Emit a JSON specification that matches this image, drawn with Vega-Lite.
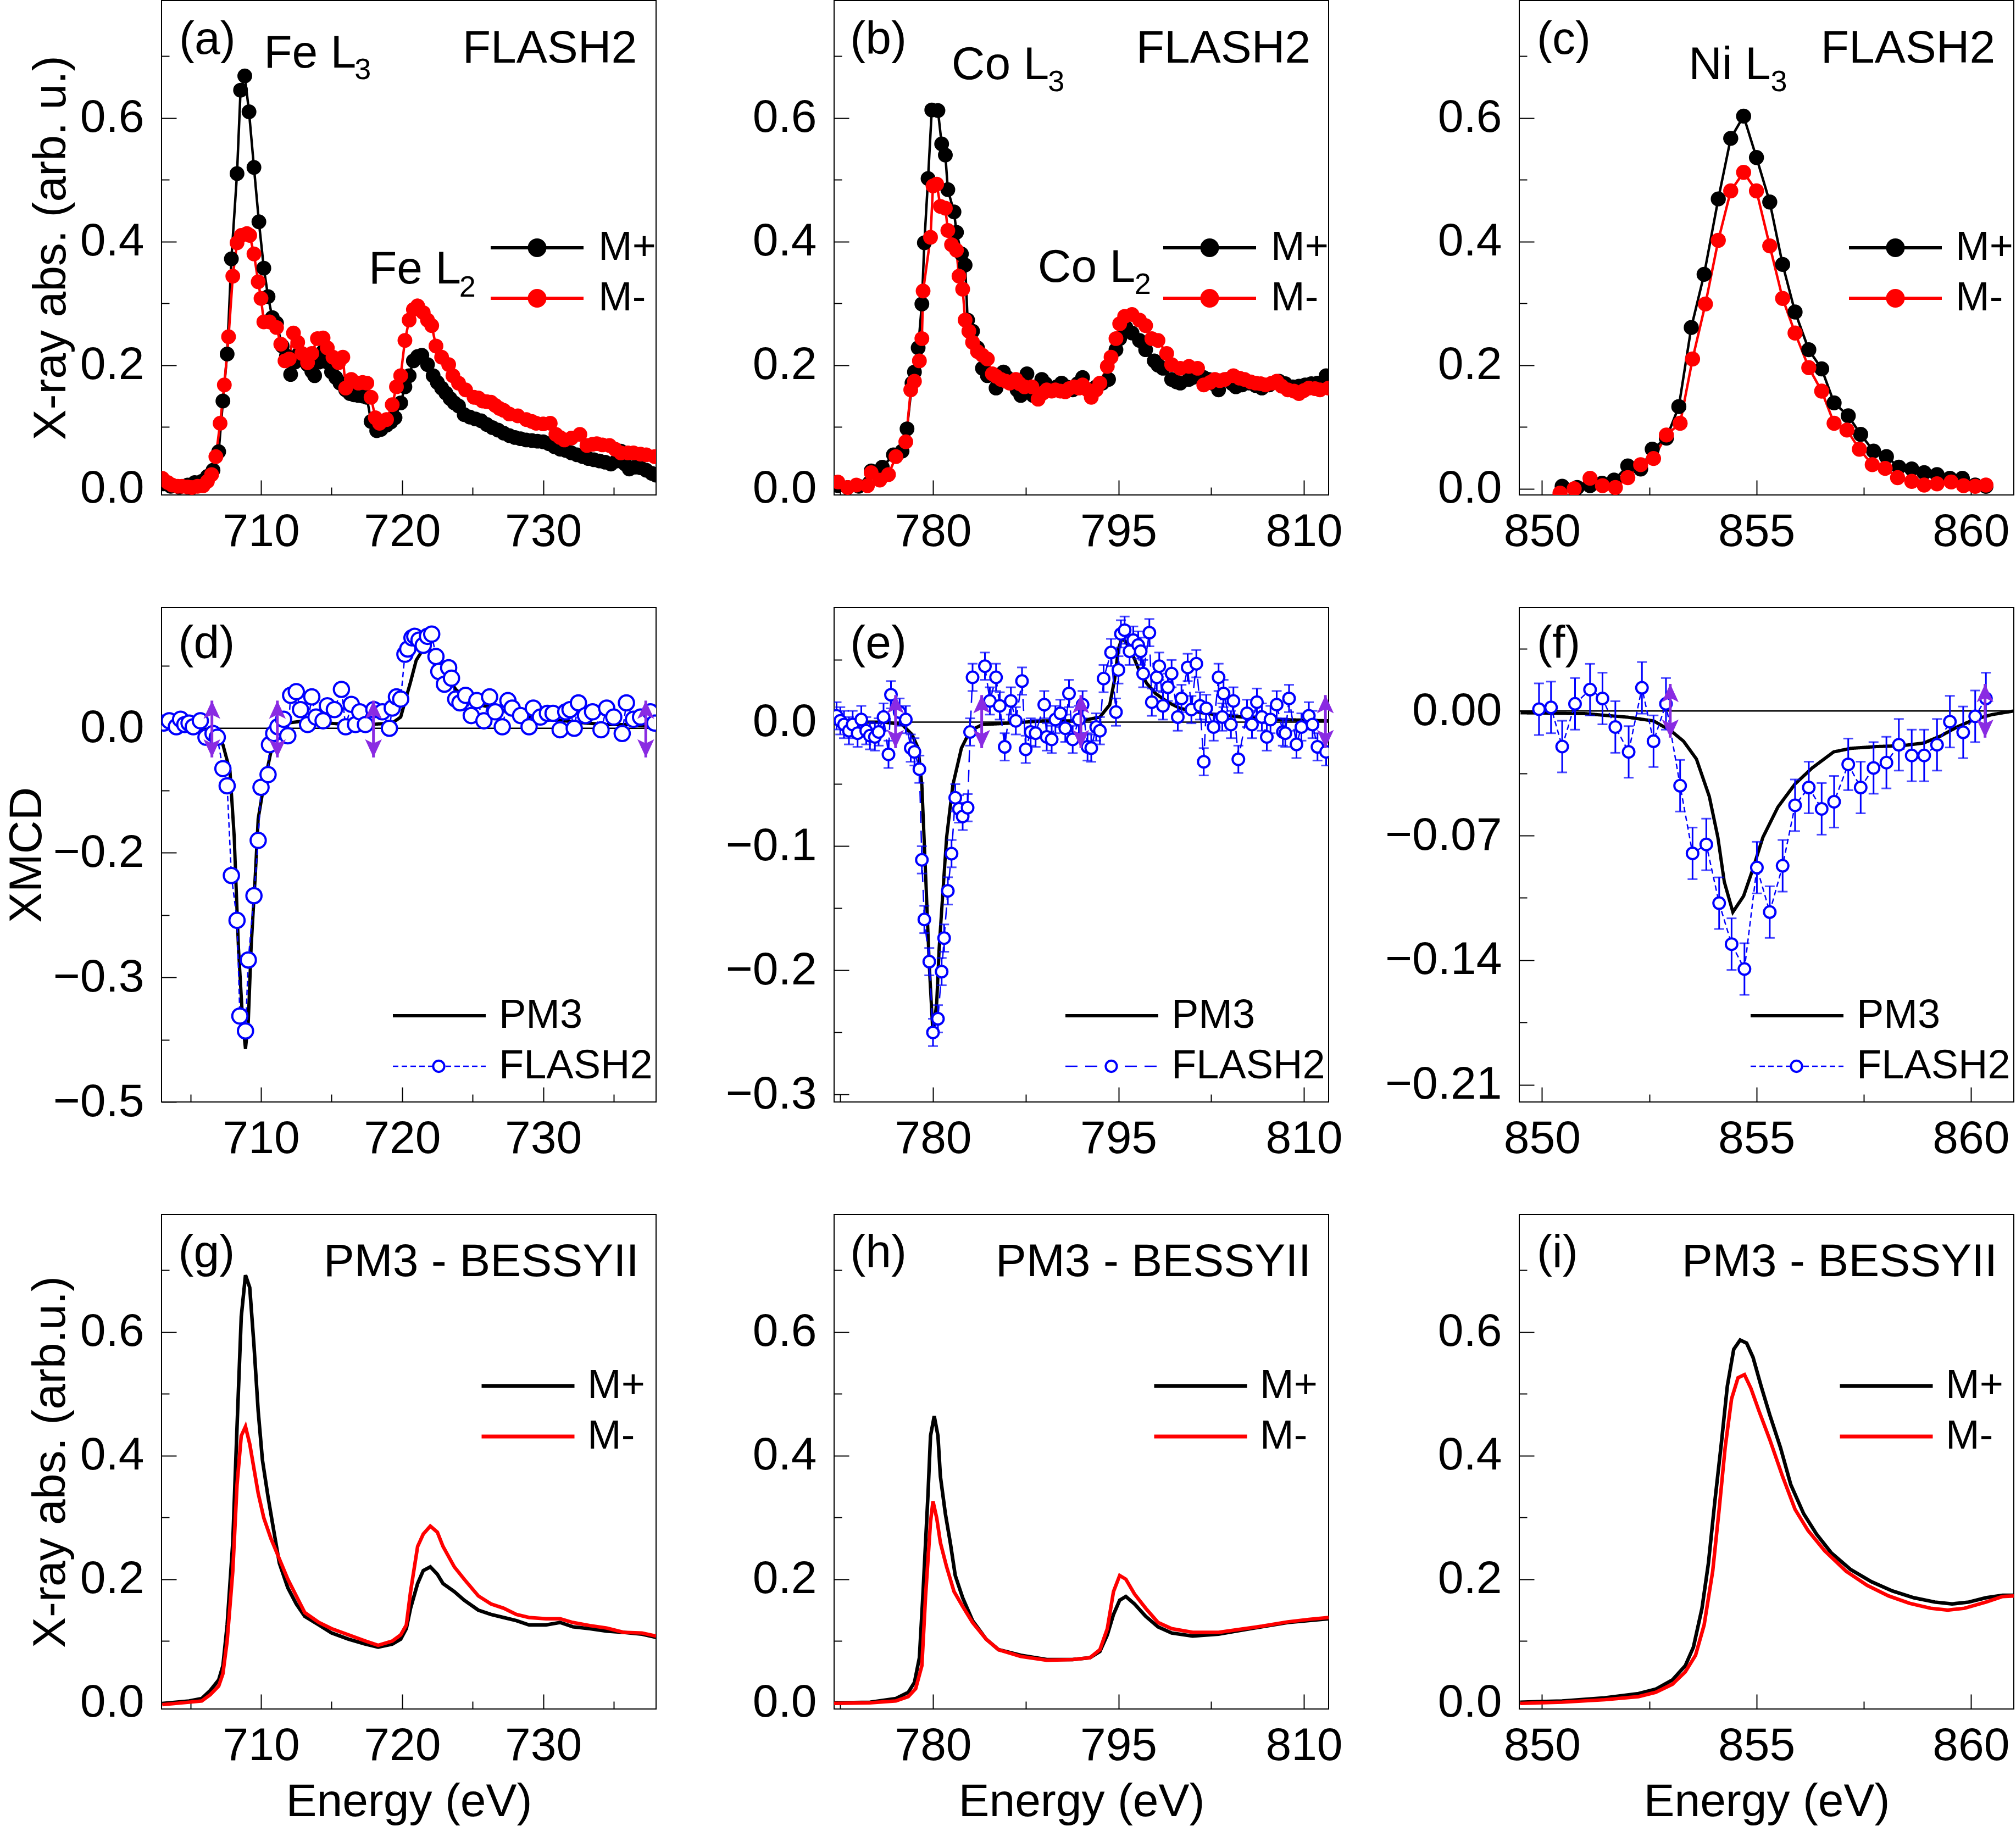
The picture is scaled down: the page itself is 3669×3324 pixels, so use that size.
{
"$schema": "https://vega.github.io/schema/vega-lite/v6.json",
"background": "white",
"padding": {"left": 6, "top": 0, "right": 0, "bottom": 0},
"autosize": {"type": "pad"},
"bounds": "flush",
"columns": 5,
"spacing": {"row": 205, "column": 0},
"resolve": {"scale": {"stroke": "independent", "fill": "independent", "strokeDash": "independent", "strokeWidth": "independent", "shape": "independent", "color": "independent"}, "legend": {"stroke": "independent", "fill": "independent", "strokeDash": "independent", "strokeWidth": "independent", "shape": "independent", "color": "independent"}},
"config": {
  "font": "Liberation Sans",
  "view": {"stroke": "black", "strokeWidth": 2},
  "axis": {"domain": false, "grid": false, "ticks": true, "tickColor": "black", "tickWidth": 2, "labelFont": "Liberation Sans", "labelFontSize": 84, "labelColor": "black", "labelLimit": 1000, "labelFlush": false, "labelOverlap": false, "labelBound": false, "titleFont": "Liberation Sans", "titleFontSize": 84, "titleFontWeight": "normal", "titleColor": "black", "titleLimit": 2000},
  "axisX": {"labelPadding": 53},
  "axisY": {"labelPadding": 59},
  "legend": {"labelFont": "Liberation Sans", "labelFontSize": 74, "labelColor": "black", "labelLimit": 1000, "padding": 0}
},
"datasets": {
"a": [
{"e":703.1,"v":0.008,"s":"M+"},{"e":703.6,"v":0.004,"s":"M+"},{"e":704.2,"v":0.003,"s":"M+"},{"e":704.8,"v":0.006,"s":"M+"},{"e":705.3,"v":0.010,"s":"M+"},{"e":705.8,"v":0.012,"s":"M+"},{"e":706.2,"v":0.020,"s":"M+"},{"e":706.6,"v":0.030,"s":"M+"},{"e":707.0,"v":0.060,"s":"M+"},{"e":707.3,"v":0.142,"s":"M+"},{"e":707.6,"v":0.218,"s":"M+"},{"e":707.9,"v":0.372,"s":"M+"},{"e":708.3,"v":0.510,"s":"M+"},{"e":708.55,"v":0.645,"s":"M+"},{"e":708.85,"v":0.668,"s":"M+"},{"e":709.15,"v":0.610,"s":"M+"},{"e":709.5,"v":0.520,"s":"M+"},{"e":709.85,"v":0.432,"s":"M+"},{"e":710.2,"v":0.357,"s":"M+"},{"e":710.5,"v":0.311,"s":"M+"},{"e":710.8,"v":0.277,"s":"M+"},{"e":711.1,"v":0.268,"s":"M+"},{"e":711.5,"v":0.231,"s":"M+"},{"e":711.8,"v":0.215,"s":"M+"},{"e":712.1,"v":0.185,"s":"M+"},{"e":712.4,"v":0.205,"s":"M+"},{"e":712.7,"v":0.219,"s":"M+"},{"e":713.0,"v":0.212,"s":"M+"},{"e":713.3,"v":0.201,"s":"M+"},{"e":713.6,"v":0.190,"s":"M+"},{"e":713.8,"v":0.183,"s":"M+"},{"e":714.1,"v":0.205,"s":"M+"},{"e":714.4,"v":0.222,"s":"M+"},{"e":714.7,"v":0.205,"s":"M+"},{"e":715.0,"v":0.189,"s":"M+"},{"e":715.3,"v":0.180,"s":"M+"},{"e":715.6,"v":0.171,"s":"M+"},{"e":716.0,"v":0.160,"s":"M+"},{"e":716.3,"v":0.154,"s":"M+"},{"e":716.6,"v":0.152,"s":"M+"},{"e":716.9,"v":0.151,"s":"M+"},{"e":717.2,"v":0.150,"s":"M+"},{"e":717.5,"v":0.148,"s":"M+"},{"e":717.8,"v":0.109,"s":"M+"},{"e":718.2,"v":0.094,"s":"M+"},{"e":718.5,"v":0.096,"s":"M+"},{"e":718.9,"v":0.103,"s":"M+"},{"e":719.2,"v":0.108,"s":"M+"},{"e":719.5,"v":0.115,"s":"M+"},{"e":719.9,"v":0.139,"s":"M+"},{"e":720.2,"v":0.165,"s":"M+"},{"e":720.5,"v":0.183,"s":"M+"},{"e":720.8,"v":0.207,"s":"M+"},{"e":721.1,"v":0.214,"s":"M+"},{"e":721.4,"v":0.216,"s":"M+"},{"e":721.8,"v":0.201,"s":"M+"},{"e":722.2,"v":0.183,"s":"M+"},{"e":722.5,"v":0.172,"s":"M+"},{"e":722.8,"v":0.163,"s":"M+"},{"e":723.1,"v":0.155,"s":"M+"},{"e":723.4,"v":0.146,"s":"M+"},{"e":723.7,"v":0.139,"s":"M+"},{"e":724.0,"v":0.134,"s":"M+"},{"e":724.4,"v":0.120,"s":"M+"},{"e":724.8,"v":0.116,"s":"M+"},{"e":725.2,"v":0.113,"s":"M+"},{"e":725.6,"v":0.110,"s":"M+"},{"e":726.0,"v":0.104,"s":"M+"},{"e":726.4,"v":0.099,"s":"M+"},{"e":726.8,"v":0.095,"s":"M+"},{"e":727.2,"v":0.090,"s":"M+"},{"e":727.6,"v":0.086,"s":"M+"},{"e":728.0,"v":0.083,"s":"M+"},{"e":728.4,"v":0.081,"s":"M+"},{"e":728.8,"v":0.079,"s":"M+"},{"e":729.2,"v":0.078,"s":"M+"},{"e":729.6,"v":0.077,"s":"M+"},{"e":730.0,"v":0.076,"s":"M+"},{"e":730.4,"v":0.073,"s":"M+"},{"e":730.8,"v":0.068,"s":"M+"},{"e":731.2,"v":0.064,"s":"M+"},{"e":731.6,"v":0.062,"s":"M+"},{"e":732.0,"v":0.058,"s":"M+"},{"e":732.4,"v":0.055,"s":"M+"},{"e":732.8,"v":0.052,"s":"M+"},{"e":733.2,"v":0.049,"s":"M+"},{"e":733.6,"v":0.047,"s":"M+"},{"e":734.0,"v":0.045,"s":"M+"},{"e":734.4,"v":0.043,"s":"M+"},{"e":734.8,"v":0.040,"s":"M+"},{"e":735.2,"v":0.045,"s":"M+"},{"e":735.5,"v":0.061,"s":"M+"},{"e":735.8,"v":0.040,"s":"M+"},{"e":736.1,"v":0.032,"s":"M+"},{"e":736.5,"v":0.035,"s":"M+"},{"e":736.9,"v":0.034,"s":"M+"},{"e":737.3,"v":0.030,"s":"M+"},{"e":737.7,"v":0.025,"s":"M+"},{"e":738.0,"v":0.022,"s":"M+"},
{"e":703.0,"v":0.017,"s":"M-"},{"e":703.4,"v":0.010,"s":"M-"},{"e":703.7,"v":0.006,"s":"M-"},{"e":704.1,"v":0.004,"s":"M-"},{"e":704.4,"v":0.004,"s":"M-"},{"e":704.8,"v":0.003,"s":"M-"},{"e":705.1,"v":0.002,"s":"M-"},{"e":705.5,"v":0.004,"s":"M-"},{"e":705.9,"v":0.005,"s":"M-"},{"e":706.2,"v":0.012,"s":"M-"},{"e":706.5,"v":0.023,"s":"M-"},{"e":706.8,"v":0.052,"s":"M-"},{"e":707.1,"v":0.106,"s":"M-"},{"e":707.4,"v":0.168,"s":"M-"},{"e":707.7,"v":0.246,"s":"M-"},{"e":708.0,"v":0.344,"s":"M-"},{"e":708.3,"v":0.398,"s":"M-"},{"e":708.6,"v":0.410,"s":"M-"},{"e":709.0,"v":0.413,"s":"M-"},{"e":709.2,"v":0.410,"s":"M-"},{"e":709.5,"v":0.380,"s":"M-"},{"e":709.8,"v":0.335,"s":"M-"},{"e":710.0,"v":0.308,"s":"M-"},{"e":710.2,"v":0.270,"s":"M-"},{"e":710.6,"v":0.270,"s":"M-"},{"e":711.1,"v":0.261,"s":"M-"},{"e":711.4,"v":0.234,"s":"M-"},{"e":711.7,"v":0.207,"s":"M-"},{"e":712.0,"v":0.210,"s":"M-"},{"e":712.3,"v":0.252,"s":"M-"},{"e":712.6,"v":0.237,"s":"M-"},{"e":712.9,"v":0.219,"s":"M-"},{"e":713.3,"v":0.204,"s":"M-"},{"e":713.6,"v":0.219,"s":"M-"},{"e":714.0,"v":0.243,"s":"M-"},{"e":714.4,"v":0.244,"s":"M-"},{"e":714.7,"v":0.228,"s":"M-"},{"e":715.1,"v":0.213,"s":"M-"},{"e":715.5,"v":0.204,"s":"M-"},{"e":715.8,"v":0.213,"s":"M-"},{"e":716.0,"v":0.163,"s":"M-"},{"e":716.4,"v":0.177,"s":"M-"},{"e":716.9,"v":0.171,"s":"M-"},{"e":717.2,"v":0.172,"s":"M-"},{"e":717.5,"v":0.171,"s":"M-"},{"e":717.8,"v":0.148,"s":"M-"},{"e":718.1,"v":0.115,"s":"M-"},{"e":718.4,"v":0.106,"s":"M-"},{"e":718.9,"v":0.112,"s":"M-"},{"e":719.3,"v":0.136,"s":"M-"},{"e":719.6,"v":0.165,"s":"M-"},{"e":719.9,"v":0.183,"s":"M-"},{"e":720.2,"v":0.240,"s":"M-"},{"e":720.5,"v":0.273,"s":"M-"},{"e":720.8,"v":0.290,"s":"M-"},{"e":721.1,"v":0.296,"s":"M-"},{"e":721.5,"v":0.285,"s":"M-"},{"e":721.8,"v":0.273,"s":"M-"},{"e":722.1,"v":0.264,"s":"M-"},{"e":722.4,"v":0.231,"s":"M-"},{"e":722.8,"v":0.213,"s":"M-"},{"e":723.3,"v":0.201,"s":"M-"},{"e":723.6,"v":0.183,"s":"M-"},{"e":724.0,"v":0.171,"s":"M-"},{"e":724.5,"v":0.160,"s":"M-"},{"e":725.1,"v":0.148,"s":"M-"},{"e":725.4,"v":0.147,"s":"M-"},{"e":725.7,"v":0.142,"s":"M-"},{"e":726.0,"v":0.141,"s":"M-"},{"e":726.3,"v":0.140,"s":"M-"},{"e":726.6,"v":0.135,"s":"M-"},{"e":726.9,"v":0.130,"s":"M-"},{"e":727.2,"v":0.127,"s":"M-"},{"e":727.6,"v":0.121,"s":"M-"},{"e":728.2,"v":0.118,"s":"M-"},{"e":728.8,"v":0.112,"s":"M-"},{"e":729.2,"v":0.109,"s":"M-"},{"e":729.5,"v":0.106,"s":"M-"},{"e":730.0,"v":0.105,"s":"M-"},{"e":730.5,"v":0.106,"s":"M-"},{"e":730.9,"v":0.088,"s":"M-"},{"e":731.2,"v":0.083,"s":"M-"},{"e":731.5,"v":0.079,"s":"M-"},{"e":732.0,"v":0.082,"s":"M-"},{"e":732.6,"v":0.088,"s":"M-"},{"e":733.1,"v":0.070,"s":"M-"},{"e":733.5,"v":0.072,"s":"M-"},{"e":733.8,"v":0.073,"s":"M-"},{"e":734.2,"v":0.071,"s":"M-"},{"e":734.7,"v":0.070,"s":"M-"},{"e":735.1,"v":0.064,"s":"M-"},{"e":735.5,"v":0.058,"s":"M-"},{"e":736.0,"v":0.058,"s":"M-"},{"e":736.4,"v":0.058,"s":"M-"},{"e":736.9,"v":0.056,"s":"M-"},{"e":737.3,"v":0.055,"s":"M-"},{"e":737.9,"v":0.052,"s":"M-"}
],
"b": [
{"e":772.3,"v":0.005,"s":"M+"},{"e":773.1,"v":0.002,"s":"M+"},{"e":774.0,"v":0.004,"s":"M+"},{"e":775.0,"v":0.029,"s":"M+"},{"e":775.9,"v":0.035,"s":"M+"},{"e":776.8,"v":0.055,"s":"M+"},{"e":777.5,"v":0.061,"s":"M+"},{"e":777.9,"v":0.097,"s":"M+"},{"e":778.3,"v":0.171,"s":"M+"},{"e":778.5,"v":0.189,"s":"M+"},{"e":778.8,"v":0.228,"s":"M+"},{"e":779.1,"v":0.299,"s":"M+"},{"e":779.3,"v":0.398,"s":"M+"},{"e":779.6,"v":0.502,"s":"M+"},{"e":779.9,"v":0.613,"s":"M+"},{"e":780.4,"v":0.612,"s":"M+"},{"e":780.7,"v":0.558,"s":"M+"},{"e":781.0,"v":0.540,"s":"M+"},{"e":781.2,"v":0.484,"s":"M+"},{"e":781.7,"v":0.448,"s":"M+"},{"e":781.9,"v":0.415,"s":"M+"},{"e":782.3,"v":0.380,"s":"M+"},{"e":782.6,"v":0.362,"s":"M+"},{"e":782.8,"v":0.273,"s":"M+"},{"e":783.2,"v":0.255,"s":"M+"},{"e":783.6,"v":0.228,"s":"M+"},{"e":784.0,"v":0.195,"s":"M+"},{"e":784.4,"v":0.183,"s":"M+"},{"e":785.1,"v":0.163,"s":"M+"},{"e":785.4,"v":0.175,"s":"M+"},{"e":785.7,"v":0.189,"s":"M+"},{"e":786.0,"v":0.180,"s":"M+"},{"e":786.4,"v":0.171,"s":"M+"},{"e":786.8,"v":0.160,"s":"M+"},{"e":787.1,"v":0.151,"s":"M+"},{"e":787.6,"v":0.186,"s":"M+"},{"e":788.1,"v":0.151,"s":"M+"},{"e":788.4,"v":0.165,"s":"M+"},{"e":788.8,"v":0.177,"s":"M+"},{"e":789.1,"v":0.170,"s":"M+"},{"e":789.5,"v":0.160,"s":"M+"},{"e":790.0,"v":0.165,"s":"M+"},{"e":790.4,"v":0.171,"s":"M+"},{"e":790.8,"v":0.165,"s":"M+"},{"e":791.3,"v":0.160,"s":"M+"},{"e":791.7,"v":0.170,"s":"M+"},{"e":792.1,"v":0.180,"s":"M+"},{"e":792.8,"v":0.160,"s":"M+"},{"e":793.2,"v":0.165,"s":"M+"},{"e":793.7,"v":0.171,"s":"M+"},{"e":794.2,"v":0.177,"s":"M+"},{"e":794.8,"v":0.225,"s":"M+"},{"e":795.1,"v":0.243,"s":"M+"},{"e":795.6,"v":0.261,"s":"M+"},{"e":796.1,"v":0.252,"s":"M+"},{"e":796.7,"v":0.240,"s":"M+"},{"e":797.2,"v":0.225,"s":"M+"},{"e":797.9,"v":0.207,"s":"M+"},{"e":798.2,"v":0.200,"s":"M+"},{"e":798.6,"v":0.195,"s":"M+"},{"e":799.3,"v":0.177,"s":"M+"},{"e":799.7,"v":0.173,"s":"M+"},{"e":800.0,"v":0.171,"s":"M+"},{"e":800.7,"v":0.177,"s":"M+"},{"e":801.0,"v":0.180,"s":"M+"},{"e":801.4,"v":0.186,"s":"M+"},{"e":801.9,"v":0.180,"s":"M+"},{"e":802.3,"v":0.177,"s":"M+"},{"e":802.7,"v":0.170,"s":"M+"},{"e":803.1,"v":0.160,"s":"M+"},{"e":803.8,"v":0.177,"s":"M+"},{"e":804.2,"v":0.170,"s":"M+"},{"e":804.5,"v":0.165,"s":"M+"},{"e":805.0,"v":0.168,"s":"M+"},{"e":805.6,"v":0.171,"s":"M+"},{"e":806.1,"v":0.167,"s":"M+"},{"e":806.6,"v":0.163,"s":"M+"},{"e":807.2,"v":0.168,"s":"M+"},{"e":808.0,"v":0.174,"s":"M+"},{"e":808.5,"v":0.170,"s":"M+"},{"e":809.1,"v":0.165,"s":"M+"},{"e":809.6,"v":0.166,"s":"M+"},{"e":810.1,"v":0.168,"s":"M+"},{"e":810.6,"v":0.170,"s":"M+"},{"e":811.1,"v":0.171,"s":"M+"},{"e":811.8,"v":0.183,"s":"M+"},
{"e":772.3,"v":0.011,"s":"M-"},{"e":773.1,"v":0.002,"s":"M-"},{"e":773.8,"v":0.006,"s":"M-"},{"e":774.7,"v":0.005,"s":"M-"},{"e":775.0,"v":0.026,"s":"M-"},{"e":775.7,"v":0.014,"s":"M-"},{"e":776.4,"v":0.023,"s":"M-"},{"e":777.0,"v":0.052,"s":"M-"},{"e":777.8,"v":0.076,"s":"M-"},{"e":778.2,"v":0.160,"s":"M-"},{"e":778.5,"v":0.174,"s":"M-"},{"e":778.9,"v":0.207,"s":"M-"},{"e":779.1,"v":0.243,"s":"M-"},{"e":779.2,"v":0.320,"s":"M-"},{"e":779.8,"v":0.407,"s":"M-"},{"e":780.0,"v":0.490,"s":"M-"},{"e":780.3,"v":0.493,"s":"M-"},{"e":780.6,"v":0.457,"s":"M-"},{"e":781.0,"v":0.454,"s":"M-"},{"e":781.2,"v":0.418,"s":"M-"},{"e":781.5,"v":0.395,"s":"M-"},{"e":781.9,"v":0.386,"s":"M-"},{"e":782.1,"v":0.344,"s":"M-"},{"e":782.4,"v":0.323,"s":"M-"},{"e":782.6,"v":0.273,"s":"M-"},{"e":782.9,"v":0.255,"s":"M-"},{"e":783.2,"v":0.237,"s":"M-"},{"e":783.6,"v":0.222,"s":"M-"},{"e":784.0,"v":0.216,"s":"M-"},{"e":784.4,"v":0.210,"s":"M-"},{"e":784.8,"v":0.186,"s":"M-"},{"e":785.1,"v":0.182,"s":"M-"},{"e":785.5,"v":0.177,"s":"M-"},{"e":785.9,"v":0.174,"s":"M-"},{"e":786.2,"v":0.171,"s":"M-"},{"e":786.7,"v":0.177,"s":"M-"},{"e":787.0,"v":0.170,"s":"M-"},{"e":787.4,"v":0.165,"s":"M-"},{"e":788.0,"v":0.165,"s":"M-"},{"e":788.5,"v":0.145,"s":"M-"},{"e":788.9,"v":0.155,"s":"M-"},{"e":789.2,"v":0.160,"s":"M-"},{"e":789.6,"v":0.158,"s":"M-"},{"e":789.9,"v":0.160,"s":"M-"},{"e":790.3,"v":0.158,"s":"M-"},{"e":790.7,"v":0.157,"s":"M-"},{"e":791.0,"v":0.162,"s":"M-"},{"e":791.4,"v":0.165,"s":"M-"},{"e":791.8,"v":0.163,"s":"M-"},{"e":792.1,"v":0.168,"s":"M-"},{"e":792.5,"v":0.160,"s":"M-"},{"e":792.8,"v":0.148,"s":"M-"},{"e":793.2,"v":0.160,"s":"M-"},{"e":793.5,"v":0.171,"s":"M-"},{"e":794.1,"v":0.198,"s":"M-"},{"e":794.4,"v":0.213,"s":"M-"},{"e":794.8,"v":0.243,"s":"M-"},{"e":795.1,"v":0.267,"s":"M-"},{"e":795.5,"v":0.279,"s":"M-"},{"e":796.1,"v":0.282,"s":"M-"},{"e":796.7,"v":0.273,"s":"M-"},{"e":797.2,"v":0.264,"s":"M-"},{"e":797.7,"v":0.243,"s":"M-"},{"e":798.2,"v":0.240,"s":"M-"},{"e":798.9,"v":0.219,"s":"M-"},{"e":799.3,"v":0.201,"s":"M-"},{"e":800.0,"v":0.195,"s":"M-"},{"e":800.7,"v":0.198,"s":"M-"},{"e":801.4,"v":0.195,"s":"M-"},{"e":801.9,"v":0.168,"s":"M-"},{"e":802.4,"v":0.172,"s":"M-"},{"e":802.8,"v":0.177,"s":"M-"},{"e":803.2,"v":0.175,"s":"M-"},{"e":803.6,"v":0.177,"s":"M-"},{"e":804.3,"v":0.183,"s":"M-"},{"e":804.8,"v":0.179,"s":"M-"},{"e":805.2,"v":0.177,"s":"M-"},{"e":805.7,"v":0.173,"s":"M-"},{"e":806.1,"v":0.171,"s":"M-"},{"e":806.5,"v":0.170,"s":"M-"},{"e":806.9,"v":0.168,"s":"M-"},{"e":807.4,"v":0.171,"s":"M-"},{"e":807.8,"v":0.174,"s":"M-"},{"e":808.2,"v":0.166,"s":"M-"},{"e":808.7,"v":0.160,"s":"M-"},{"e":809.2,"v":0.158,"s":"M-"},{"e":809.6,"v":0.154,"s":"M-"},{"e":810.0,"v":0.159,"s":"M-"},{"e":810.4,"v":0.163,"s":"M-"},{"e":810.9,"v":0.162,"s":"M-"},{"e":811.3,"v":0.160,"s":"M-"},{"e":812.0,"v":0.163,"s":"M-"}
],
"c": [
{"e":850.47,"v":0.004,"s":"M+"},{"e":850.82,"v":0.002,"s":"M+"},{"e":851.12,"v":0.005,"s":"M+"},{"e":851.4,"v":0.009,"s":"M+"},{"e":851.68,"v":0.014,"s":"M+"},{"e":852.0,"v":0.037,"s":"M+"},{"e":852.3,"v":0.032,"s":"M+"},{"e":852.57,"v":0.064,"s":"M+"},{"e":852.9,"v":0.082,"s":"M+"},{"e":853.19,"v":0.133,"s":"M+"},{"e":853.48,"v":0.261,"s":"M+"},{"e":853.78,"v":0.347,"s":"M+"},{"e":854.11,"v":0.469,"s":"M+"},{"e":854.4,"v":0.567,"s":"M+"},{"e":854.7,"v":0.603,"s":"M+"},{"e":855.0,"v":0.536,"s":"M+"},{"e":855.31,"v":0.464,"s":"M+"},{"e":855.61,"v":0.363,"s":"M+"},{"e":855.9,"v":0.286,"s":"M+"},{"e":856.22,"v":0.225,"s":"M+"},{"e":856.52,"v":0.194,"s":"M+"},{"e":856.81,"v":0.139,"s":"M+"},{"e":857.14,"v":0.118,"s":"M+"},{"e":857.43,"v":0.088,"s":"M+"},{"e":857.73,"v":0.061,"s":"M+"},{"e":858.03,"v":0.052,"s":"M+"},{"e":858.32,"v":0.035,"s":"M+"},{"e":858.62,"v":0.032,"s":"M+"},{"e":858.91,"v":0.026,"s":"M+"},{"e":859.21,"v":0.023,"s":"M+"},{"e":859.51,"v":0.017,"s":"M+"},{"e":859.8,"v":0.017,"s":"M+"},{"e":860.1,"v":0.006,"s":"M+"},{"e":860.35,"v":0.004,"s":"M+"},
{"e":850.42,"v":-0.007,"s":"M-"},{"e":850.75,"v":0.0,"s":"M-"},{"e":851.12,"v":0.017,"s":"M-"},{"e":851.41,"v":0.005,"s":"M-"},{"e":851.71,"v":0.002,"s":"M-"},{"e":852.0,"v":0.018,"s":"M-"},{"e":852.3,"v":0.039,"s":"M-"},{"e":852.6,"v":0.049,"s":"M-"},{"e":852.9,"v":0.087,"s":"M-"},{"e":853.22,"v":0.106,"s":"M-"},{"e":853.51,"v":0.210,"s":"M-"},{"e":853.81,"v":0.299,"s":"M-"},{"e":854.11,"v":0.402,"s":"M-"},{"e":854.4,"v":0.482,"s":"M-"},{"e":854.7,"v":0.512,"s":"M-"},{"e":855.0,"v":0.482,"s":"M-"},{"e":855.31,"v":0.393,"s":"M-"},{"e":855.61,"v":0.308,"s":"M-"},{"e":855.9,"v":0.252,"s":"M-"},{"e":856.22,"v":0.196,"s":"M-"},{"e":856.52,"v":0.158,"s":"M-"},{"e":856.81,"v":0.106,"s":"M-"},{"e":857.11,"v":0.095,"s":"M-"},{"e":857.4,"v":0.064,"s":"M-"},{"e":857.7,"v":0.039,"s":"M-"},{"e":858.0,"v":0.033,"s":"M-"},{"e":858.29,"v":0.018,"s":"M-"},{"e":858.62,"v":0.012,"s":"M-"},{"e":858.91,"v":0.006,"s":"M-"},{"e":859.21,"v":0.008,"s":"M-"},{"e":859.54,"v":0.011,"s":"M-"},{"e":859.83,"v":0.005,"s":"M-"},{"e":860.1,"v":0.004,"s":"M-"},{"e":860.35,"v":0.006,"s":"M-"}
],
"d": [
{"e":703.0,"v":0.0,"s":"PM3"},{"e":705.0,"v":0.0,"s":"PM3"},{"e":706.0,"v":-0.002,"s":"PM3"},{"e":706.8,"v":-0.008,"s":"PM3"},{"e":707.3,"v":-0.022,"s":"PM3"},{"e":707.8,"v":-0.057,"s":"PM3"},{"e":708.1,"v":-0.145,"s":"PM3"},{"e":708.4,"v":-0.293,"s":"PM3"},{"e":708.7,"v":-0.392,"s":"PM3"},{"e":708.9,"v":-0.429,"s":"PM3"},{"e":709.1,"v":-0.392,"s":"PM3"},{"e":709.3,"v":-0.293,"s":"PM3"},{"e":709.6,"v":-0.195,"s":"PM3"},{"e":709.8,"v":-0.121,"s":"PM3"},{"e":710.2,"v":-0.076,"s":"PM3"},{"e":710.7,"v":-0.032,"s":"PM3"},{"e":711.3,"v":-0.007,"s":"PM3"},{"e":711.9,"v":0.007,"s":"PM3"},{"e":713.1,"v":0.010,"s":"PM3"},{"e":714.7,"v":0.007,"s":"PM3"},{"e":716.2,"v":0.005,"s":"PM3"},{"e":717.7,"v":0.005,"s":"PM3"},{"e":719.3,"v":0.007,"s":"PM3"},{"e":719.9,"v":0.015,"s":"PM3"},{"e":720.3,"v":0.042,"s":"PM3"},{"e":720.6,"v":0.062,"s":"PM3"},{"e":721.0,"v":0.091,"s":"PM3"},{"e":721.4,"v":0.103,"s":"PM3"},{"e":721.8,"v":0.111,"s":"PM3"},{"e":722.3,"v":0.096,"s":"PM3"},{"e":722.8,"v":0.081,"s":"PM3"},{"e":723.2,"v":0.069,"s":"PM3"},{"e":723.8,"v":0.052,"s":"PM3"},{"e":724.4,"v":0.042,"s":"PM3"},{"e":725.4,"v":0.032,"s":"PM3"},{"e":726.9,"v":0.025,"s":"PM3"},{"e":728.4,"v":0.017,"s":"PM3"},{"e":729.9,"v":0.012,"s":"PM3"},{"e":731.5,"v":0.010,"s":"PM3"},{"e":733.0,"v":0.007,"s":"PM3"},{"e":734.5,"v":0.005,"s":"PM3"},{"e":736.0,"v":0.005,"s":"PM3"},{"e":738.0,"v":0.002,"s":"PM3"},
{"e":703.1,"v":0.007,"s":"FLASH2"},{"e":703.5,"v":0.010,"s":"FLASH2"},{"e":704.0,"v":0.002,"s":"FLASH2"},{"e":704.3,"v":0.012,"s":"FLASH2"},{"e":704.6,"v":0.005,"s":"FLASH2"},{"e":704.9,"v":0.007,"s":"FLASH2"},{"e":705.2,"v":0.002,"s":"FLASH2"},{"e":705.7,"v":0.010,"s":"FLASH2"},{"e":706.1,"v":-0.012,"s":"FLASH2"},{"e":706.6,"v":-0.007,"s":"FLASH2"},{"e":706.9,"v":-0.012,"s":"FLASH2"},{"e":707.3,"v":-0.054,"s":"FLASH2"},{"e":707.6,"v":-0.077,"s":"FLASH2"},{"e":707.9,"v":-0.197,"s":"FLASH2"},{"e":708.3,"v":-0.257,"s":"FLASH2"},{"e":708.5,"v":-0.385,"s":"FLASH2"},{"e":708.9,"v":-0.405,"s":"FLASH2"},{"e":709.1,"v":-0.310,"s":"FLASH2"},{"e":709.5,"v":-0.224,"s":"FLASH2"},{"e":709.8,"v":-0.150,"s":"FLASH2"},{"e":710.0,"v":-0.079,"s":"FLASH2"},{"e":710.5,"v":-0.062,"s":"FLASH2"},{"e":710.6,"v":-0.022,"s":"FLASH2"},{"e":710.9,"v":-0.007,"s":"FLASH2"},{"e":711.2,"v":0.002,"s":"FLASH2"},{"e":711.6,"v":0.012,"s":"FLASH2"},{"e":711.9,"v":-0.010,"s":"FLASH2"},{"e":712.1,"v":0.044,"s":"FLASH2"},{"e":712.5,"v":0.049,"s":"FLASH2"},{"e":712.8,"v":0.025,"s":"FLASH2"},{"e":713.3,"v":0.005,"s":"FLASH2"},{"e":713.6,"v":0.042,"s":"FLASH2"},{"e":713.9,"v":0.015,"s":"FLASH2"},{"e":714.4,"v":0.010,"s":"FLASH2"},{"e":714.7,"v":0.030,"s":"FLASH2"},{"e":715.2,"v":0.025,"s":"FLASH2"},{"e":715.7,"v":0.052,"s":"FLASH2"},{"e":716.0,"v":0.002,"s":"FLASH2"},{"e":716.4,"v":0.032,"s":"FLASH2"},{"e":716.7,"v":0.005,"s":"FLASH2"},{"e":717.0,"v":0.022,"s":"FLASH2"},{"e":717.4,"v":0.005,"s":"FLASH2"},{"e":718.0,"v":0.025,"s":"FLASH2"},{"e":718.6,"v":0.022,"s":"FLASH2"},{"e":719.1,"v":0.0,"s":"FLASH2"},{"e":719.3,"v":0.027,"s":"FLASH2"},{"e":719.6,"v":0.042,"s":"FLASH2"},{"e":719.9,"v":0.039,"s":"FLASH2"},{"e":720.2,"v":0.099,"s":"FLASH2"},{"e":720.4,"v":0.106,"s":"FLASH2"},{"e":720.7,"v":0.121,"s":"FLASH2"},{"e":720.9,"v":0.123,"s":"FLASH2"},{"e":721.2,"v":0.118,"s":"FLASH2"},{"e":721.5,"v":0.111,"s":"FLASH2"},{"e":721.8,"v":0.123,"s":"FLASH2"},{"e":722.1,"v":0.126,"s":"FLASH2"},{"e":722.4,"v":0.096,"s":"FLASH2"},{"e":722.6,"v":0.076,"s":"FLASH2"},{"e":723.0,"v":0.059,"s":"FLASH2"},{"e":723.3,"v":0.081,"s":"FLASH2"},{"e":723.5,"v":0.067,"s":"FLASH2"},{"e":723.8,"v":0.039,"s":"FLASH2"},{"e":724.1,"v":0.034,"s":"FLASH2"},{"e":724.5,"v":0.044,"s":"FLASH2"},{"e":724.9,"v":0.017,"s":"FLASH2"},{"e":725.3,"v":0.037,"s":"FLASH2"},{"e":725.8,"v":0.010,"s":"FLASH2"},{"e":726.2,"v":0.042,"s":"FLASH2"},{"e":726.6,"v":0.022,"s":"FLASH2"},{"e":727.1,"v":0.002,"s":"FLASH2"},{"e":727.5,"v":0.037,"s":"FLASH2"},{"e":727.8,"v":0.027,"s":"FLASH2"},{"e":728.4,"v":0.017,"s":"FLASH2"},{"e":729.0,"v":0.002,"s":"FLASH2"},{"e":729.3,"v":0.027,"s":"FLASH2"},{"e":729.8,"v":0.015,"s":"FLASH2"},{"e":730.3,"v":0.020,"s":"FLASH2"},{"e":730.7,"v":0.020,"s":"FLASH2"},{"e":731.2,"v":-0.002,"s":"FLASH2"},{"e":731.6,"v":0.022,"s":"FLASH2"},{"e":731.9,"v":0.025,"s":"FLASH2"},{"e":732.2,"v":0.0,"s":"FLASH2"},{"e":732.5,"v":0.034,"s":"FLASH2"},{"e":733.0,"v":0.017,"s":"FLASH2"},{"e":733.5,"v":0.022,"s":"FLASH2"},{"e":734.1,"v":-0.002,"s":"FLASH2"},{"e":734.5,"v":0.027,"s":"FLASH2"},{"e":735.0,"v":0.015,"s":"FLASH2"},{"e":735.6,"v":-0.007,"s":"FLASH2"},{"e":735.9,"v":0.034,"s":"FLASH2"},{"e":736.4,"v":0.012,"s":"FLASH2"},{"e":736.9,"v":0.015,"s":"FLASH2"},{"e":737.6,"v":0.022,"s":"FLASH2"},{"e":737.9,"v":0.007,"s":"FLASH2"}
],
"e": [
{"e":772.0,"v":0.0,"s":"PM3"},{"e":776.0,"v":0.0,"s":"PM3"},{"e":777.5,"v":-0.002,"s":"PM3"},{"e":778.3,"v":-0.010,"s":"PM3"},{"e":778.8,"v":-0.021,"s":"PM3"},{"e":779.1,"v":-0.051,"s":"PM3"},{"e":779.4,"v":-0.122,"s":"PM3"},{"e":779.7,"v":-0.196,"s":"PM3"},{"e":780.0,"v":-0.252,"s":"PM3"},{"e":780.3,"v":-0.226,"s":"PM3"},{"e":780.5,"v":-0.182,"s":"PM3"},{"e":780.8,"v":-0.137,"s":"PM3"},{"e":781.1,"v":-0.093,"s":"PM3"},{"e":781.6,"v":-0.051,"s":"PM3"},{"e":782.3,"v":-0.021,"s":"PM3"},{"e":783.0,"v":-0.007,"s":"PM3"},{"e":784.0,"v":-0.002,"s":"PM3"},{"e":786.0,"v":-0.001,"s":"PM3"},{"e":789.0,"v":0.001,"s":"PM3"},{"e":792.0,"v":0.001,"s":"PM3"},{"e":793.5,"v":0.004,"s":"PM3"},{"e":794.3,"v":0.014,"s":"PM3"},{"e":794.7,"v":0.035,"s":"PM3"},{"e":795.0,"v":0.059,"s":"PM3"},{"e":795.3,"v":0.068,"s":"PM3"},{"e":795.7,"v":0.063,"s":"PM3"},{"e":796.2,"v":0.053,"s":"PM3"},{"e":796.7,"v":0.041,"s":"PM3"},{"e":797.3,"v":0.031,"s":"PM3"},{"e":798.0,"v":0.023,"s":"PM3"},{"e":799.0,"v":0.016,"s":"PM3"},{"e":800.0,"v":0.011,"s":"PM3"},{"e":802.0,"v":0.007,"s":"PM3"},{"e":805.0,"v":0.004,"s":"PM3"},{"e":808.0,"v":0.002,"s":"PM3"},{"e":812.0,"v":0.001,"s":"PM3"},
{"e":772.2,"v":0.005,"s":"FLASH2","err":0.011},{"e":772.5,"v":0.001,"s":"FLASH2","err":0.011},{"e":772.8,"v":-0.002,"s":"FLASH2","err":0.011},{"e":773.2,"v":-0.007,"s":"FLASH2","err":0.011},{"e":773.5,"v":-0.002,"s":"FLASH2","err":0.011},{"e":773.9,"v":-0.009,"s":"FLASH2","err":0.011},{"e":774.2,"v":0.002,"s":"FLASH2","err":0.011},{"e":774.6,"v":-0.007,"s":"FLASH2","err":0.011},{"e":774.9,"v":-0.011,"s":"FLASH2","err":0.011},{"e":775.3,"v":-0.012,"s":"FLASH2","err":0.011},{"e":775.6,"v":-0.008,"s":"FLASH2","err":0.011},{"e":776.0,"v":0.004,"s":"FLASH2","err":0.011},{"e":776.4,"v":-0.026,"s":"FLASH2","err":0.011},{"e":776.6,"v":0.022,"s":"FLASH2","err":0.011},{"e":777.3,"v":0.008,"s":"FLASH2","err":0.011},{"e":777.8,"v":0.002,"s":"FLASH2","err":0.011},{"e":778.2,"v":-0.021,"s":"FLASH2","err":0.011},{"e":778.5,"v":-0.024,"s":"FLASH2","err":0.011},{"e":778.9,"v":-0.038,"s":"FLASH2","err":0.011},{"e":779.1,"v":-0.111,"s":"FLASH2","err":0.011},{"e":779.3,"v":-0.159,"s":"FLASH2","err":0.011},{"e":779.7,"v":-0.193,"s":"FLASH2","err":0.011},{"e":780.0,"v":-0.250,"s":"FLASH2","err":0.011},{"e":780.4,"v":-0.239,"s":"FLASH2","err":0.011},{"e":780.7,"v":-0.201,"s":"FLASH2","err":0.011},{"e":780.9,"v":-0.174,"s":"FLASH2","err":0.011},{"e":781.2,"v":-0.136,"s":"FLASH2","err":0.011},{"e":781.5,"v":-0.106,"s":"FLASH2","err":0.011},{"e":781.8,"v":-0.061,"s":"FLASH2","err":0.011},{"e":782.1,"v":-0.070,"s":"FLASH2","err":0.011},{"e":782.4,"v":-0.076,"s":"FLASH2","err":0.011},{"e":782.8,"v":-0.069,"s":"FLASH2","err":0.011},{"e":783.0,"v":-0.008,"s":"FLASH2","err":0.011},{"e":783.2,"v":0.036,"s":"FLASH2","err":0.011},{"e":784.2,"v":0.045,"s":"FLASH2","err":0.011},{"e":784.6,"v":0.017,"s":"FLASH2","err":0.011},{"e":785.1,"v":0.036,"s":"FLASH2","err":0.011},{"e":785.4,"v":0.013,"s":"FLASH2","err":0.011},{"e":785.8,"v":-0.020,"s":"FLASH2","err":0.011},{"e":786.3,"v":0.017,"s":"FLASH2","err":0.011},{"e":786.7,"v":0.001,"s":"FLASH2","err":0.011},{"e":787.2,"v":0.033,"s":"FLASH2","err":0.011},{"e":787.5,"v":-0.022,"s":"FLASH2","err":0.011},{"e":787.9,"v":-0.008,"s":"FLASH2","err":0.011},{"e":788.3,"v":-0.009,"s":"FLASH2","err":0.011},{"e":789.0,"v":0.014,"s":"FLASH2","err":0.011},{"e":789.2,"v":-0.012,"s":"FLASH2","err":0.011},{"e":789.6,"v":-0.014,"s":"FLASH2","err":0.011},{"e":789.9,"v":0.002,"s":"FLASH2","err":0.011},{"e":790.3,"v":0.007,"s":"FLASH2","err":0.011},{"e":790.7,"v":-0.005,"s":"FLASH2","err":0.011},{"e":791.0,"v":0.023,"s":"FLASH2","err":0.011},{"e":791.3,"v":-0.014,"s":"FLASH2","err":0.011},{"e":791.8,"v":0.002,"s":"FLASH2","err":0.011},{"e":792.1,"v":0.014,"s":"FLASH2","err":0.011},{"e":792.5,"v":-0.020,"s":"FLASH2","err":0.011},{"e":792.8,"v":-0.021,"s":"FLASH2","err":0.011},{"e":793.2,"v":-0.004,"s":"FLASH2","err":0.011},{"e":793.5,"v":-0.007,"s":"FLASH2","err":0.011},{"e":793.8,"v":0.035,"s":"FLASH2","err":0.011},{"e":794.4,"v":0.056,"s":"FLASH2","err":0.011},{"e":794.8,"v":0.008,"s":"FLASH2","err":0.011},{"e":795.0,"v":0.042,"s":"FLASH2","err":0.011},{"e":795.2,"v":0.071,"s":"FLASH2","err":0.011},{"e":795.5,"v":0.074,"s":"FLASH2","err":0.011},{"e":795.9,"v":0.057,"s":"FLASH2","err":0.011},{"e":796.2,"v":0.066,"s":"FLASH2","err":0.011},{"e":796.6,"v":0.062,"s":"FLASH2","err":0.011},{"e":796.8,"v":0.057,"s":"FLASH2","err":0.011},{"e":797.0,"v":0.039,"s":"FLASH2","err":0.011},{"e":797.5,"v":0.072,"s":"FLASH2","err":0.011},{"e":797.7,"v":0.016,"s":"FLASH2","err":0.011},{"e":798.1,"v":0.036,"s":"FLASH2","err":0.011},{"e":798.3,"v":0.045,"s":"FLASH2","err":0.011},{"e":798.6,"v":0.013,"s":"FLASH2","err":0.011},{"e":799.0,"v":0.028,"s":"FLASH2","err":0.011},{"e":799.3,"v":0.039,"s":"FLASH2","err":0.011},{"e":799.8,"v":0.004,"s":"FLASH2","err":0.011},{"e":800.1,"v":0.019,"s":"FLASH2","err":0.011},{"e":800.6,"v":0.044,"s":"FLASH2","err":0.011},{"e":800.9,"v":0.010,"s":"FLASH2","err":0.011},{"e":801.3,"v":0.047,"s":"FLASH2","err":0.011},{"e":801.6,"v":0.013,"s":"FLASH2","err":0.011},{"e":801.9,"v":-0.032,"s":"FLASH2","err":0.011},{"e":802.1,"v":0.011,"s":"FLASH2","err":0.011},{"e":802.7,"v":-0.004,"s":"FLASH2","err":0.011},{"e":803.1,"v":0.036,"s":"FLASH2","err":0.011},{"e":803.4,"v":0.004,"s":"FLASH2","err":0.011},{"e":803.5,"v":0.023,"s":"FLASH2","err":0.011},{"e":804.1,"v":-0.002,"s":"FLASH2","err":0.011},{"e":804.3,"v":0.017,"s":"FLASH2","err":0.011},{"e":804.7,"v":-0.030,"s":"FLASH2","err":0.011},{"e":805.4,"v":0.007,"s":"FLASH2","err":0.011},{"e":805.8,"v":-0.002,"s":"FLASH2","err":0.011},{"e":806.2,"v":0.016,"s":"FLASH2","err":0.011},{"e":806.6,"v":0.004,"s":"FLASH2","err":0.011},{"e":807.0,"v":-0.012,"s":"FLASH2","err":0.011},{"e":807.3,"v":0.002,"s":"FLASH2","err":0.011},{"e":807.8,"v":0.014,"s":"FLASH2","err":0.011},{"e":808.3,"v":-0.008,"s":"FLASH2","err":0.011},{"e":808.5,"v":-0.009,"s":"FLASH2","err":0.011},{"e":808.8,"v":0.019,"s":"FLASH2","err":0.011},{"e":809.4,"v":-0.018,"s":"FLASH2","err":0.011},{"e":809.8,"v":-0.004,"s":"FLASH2","err":0.011},{"e":810.4,"v":0.005,"s":"FLASH2","err":0.011},{"e":810.7,"v":-0.002,"s":"FLASH2","err":0.011},{"e":811.1,"v":-0.020,"s":"FLASH2","err":0.011},{"e":811.8,"v":-0.024,"s":"FLASH2","err":0.011}
],
"f": [
{"e":849.5,"v":-0.001,"s":"PM3"},{"e":851.0,"v":-0.0015,"s":"PM3"},{"e":852.0,"v":-0.0035,"s":"PM3"},{"e":852.6,"v":-0.0056,"s":"PM3"},{"e":853.0,"v":-0.011,"s":"PM3"},{"e":853.3,"v":-0.017,"s":"PM3"},{"e":853.6,"v":-0.027,"s":"PM3"},{"e":853.9,"v":-0.048,"s":"PM3"},{"e":854.1,"v":-0.071,"s":"PM3"},{"e":854.25,"v":-0.096,"s":"PM3"},{"e":854.45,"v":-0.113,"s":"PM3"},{"e":854.7,"v":-0.104,"s":"PM3"},{"e":854.9,"v":-0.090,"s":"PM3"},{"e":855.15,"v":-0.071,"s":"PM3"},{"e":855.5,"v":-0.054,"s":"PM3"},{"e":855.9,"v":-0.041,"s":"PM3"},{"e":856.3,"v":-0.032,"s":"PM3"},{"e":856.8,"v":-0.023,"s":"PM3"},{"e":857.2,"v":-0.021,"s":"PM3"},{"e":857.8,"v":-0.020,"s":"PM3"},{"e":858.4,"v":-0.0195,"s":"PM3"},{"e":858.9,"v":-0.018,"s":"PM3"},{"e":859.3,"v":-0.014,"s":"PM3"},{"e":859.7,"v":-0.0087,"s":"PM3"},{"e":860.1,"v":-0.0046,"s":"PM3"},{"e":860.5,"v":-0.002,"s":"PM3"},{"e":861.0,"v":0.0,"s":"PM3"},
{"e":849.93,"v":0.001,"s":"FLASH2","err":0.0145},{"e":850.21,"v":0.002,"s":"FLASH2","err":0.0145},{"e":850.47,"v":-0.020,"s":"FLASH2","err":0.0145},{"e":850.77,"v":0.004,"s":"FLASH2","err":0.0145},{"e":851.12,"v":0.012,"s":"FLASH2","err":0.0145},{"e":851.41,"v":0.007,"s":"FLASH2","err":0.0145},{"e":851.71,"v":-0.009,"s":"FLASH2","err":0.0145},{"e":852.02,"v":-0.023,"s":"FLASH2","err":0.0145},{"e":852.33,"v":0.013,"s":"FLASH2","err":0.0145},{"e":852.6,"v":-0.017,"s":"FLASH2","err":0.0145},{"e":852.89,"v":0.004,"s":"FLASH2","err":0.0145},{"e":853.22,"v":-0.042,"s":"FLASH2","err":0.0145},{"e":853.51,"v":-0.080,"s":"FLASH2","err":0.0145},{"e":853.83,"v":-0.075,"s":"FLASH2","err":0.0145},{"e":854.13,"v":-0.108,"s":"FLASH2","err":0.0145},{"e":854.42,"v":-0.131,"s":"FLASH2","err":0.0145},{"e":854.72,"v":-0.145,"s":"FLASH2","err":0.0145},{"e":855.01,"v":-0.088,"s":"FLASH2","err":0.0145},{"e":855.31,"v":-0.113,"s":"FLASH2","err":0.0145},{"e":855.61,"v":-0.087,"s":"FLASH2","err":0.0145},{"e":855.9,"v":-0.053,"s":"FLASH2","err":0.0145},{"e":856.22,"v":-0.043,"s":"FLASH2","err":0.0145},{"e":856.52,"v":-0.055,"s":"FLASH2","err":0.0145},{"e":856.81,"v":-0.051,"s":"FLASH2","err":0.0145},{"e":857.14,"v":-0.030,"s":"FLASH2","err":0.0145},{"e":857.43,"v":-0.043,"s":"FLASH2","err":0.0145},{"e":857.73,"v":-0.032,"s":"FLASH2","err":0.0145},{"e":858.03,"v":-0.029,"s":"FLASH2","err":0.0145},{"e":858.32,"v":-0.019,"s":"FLASH2","err":0.0145},{"e":858.62,"v":-0.025,"s":"FLASH2","err":0.0145},{"e":858.91,"v":-0.025,"s":"FLASH2","err":0.0145},{"e":859.21,"v":-0.019,"s":"FLASH2","err":0.0145},{"e":859.51,"v":-0.006,"s":"FLASH2","err":0.0145},{"e":859.82,"v":-0.012,"s":"FLASH2","err":0.0145},{"e":860.1,"v":-0.003,"s":"FLASH2","err":0.0145},{"e":860.35,"v":0.007,"s":"FLASH2","err":0.0145}
],
"arr_d": [{"e":706.52,"lo":-0.039,"hi":0.037},{"e":711.16,"lo":-0.039,"hi":0.037},{"e":717.97,"lo":-0.039,"hi":0.037},{"e":737.27,"lo":-0.039,"hi":0.037}],
"arr_e": [{"e":776.97,"lo":-0.021,"hi":0.0217},{"e":783.94,"lo":-0.021,"hi":0.0217},{"e":791.96,"lo":-0.021,"hi":0.0217},{"e":811.74,"lo":-0.021,"hi":0.0217}],
"arr_f": [{"e":852.99,"lo":-0.015,"hi":0.0152},{"e":860.33,"lo":-0.015,"hi":0.0152}],
"g": [
{"e":703.0,"v":-0.001,"s":"M+"},{"e":704.9,"v":0.003,"s":"M+"},{"e":705.8,"v":0.007,"s":"M+"},{"e":706.4,"v":0.020,"s":"M+"},{"e":707.0,"v":0.037,"s":"M+"},{"e":707.3,"v":0.060,"s":"M+"},{"e":707.6,"v":0.126,"s":"M+"},{"e":708.0,"v":0.260,"s":"M+"},{"e":708.3,"v":0.446,"s":"M+"},{"e":708.6,"v":0.625,"s":"M+"},{"e":708.9,"v":0.692,"s":"M+"},{"e":709.2,"v":0.672,"s":"M+"},{"e":709.5,"v":0.579,"s":"M+"},{"e":709.8,"v":0.472,"s":"M+"},{"e":710.1,"v":0.393,"s":"M+"},{"e":710.5,"v":0.333,"s":"M+"},{"e":710.9,"v":0.279,"s":"M+"},{"e":711.3,"v":0.226,"s":"M+"},{"e":711.9,"v":0.186,"s":"M+"},{"e":712.5,"v":0.160,"s":"M+"},{"e":713.1,"v":0.140,"s":"M+"},{"e":714.1,"v":0.126,"s":"M+"},{"e":715.0,"v":0.113,"s":"M+"},{"e":716.2,"v":0.103,"s":"M+"},{"e":717.4,"v":0.095,"s":"M+"},{"e":718.3,"v":0.090,"s":"M+"},{"e":719.3,"v":0.095,"s":"M+"},{"e":719.9,"v":0.103,"s":"M+"},{"e":720.3,"v":0.120,"s":"M+"},{"e":720.6,"v":0.153,"s":"M+"},{"e":721.1,"v":0.193,"s":"M+"},{"e":721.5,"v":0.214,"s":"M+"},{"e":722.0,"v":0.220,"s":"M+"},{"e":722.5,"v":0.208,"s":"M+"},{"e":722.9,"v":0.193,"s":"M+"},{"e":723.7,"v":0.180,"s":"M+"},{"e":724.4,"v":0.166,"s":"M+"},{"e":725.4,"v":0.150,"s":"M+"},{"e":726.3,"v":0.143,"s":"M+"},{"e":727.2,"v":0.138,"s":"M+"},{"e":728.1,"v":0.133,"s":"M+"},{"e":729.0,"v":0.126,"s":"M+"},{"e":730.2,"v":0.126,"s":"M+"},{"e":731.2,"v":0.130,"s":"M+"},{"e":732.1,"v":0.123,"s":"M+"},{"e":733.3,"v":0.120,"s":"M+"},{"e":734.5,"v":0.116,"s":"M+"},{"e":735.7,"v":0.114,"s":"M+"},{"e":737.0,"v":0.111,"s":"M+"},{"e":738.0,"v":0.106,"s":"M+"},
{"e":703.0,"v":-0.003,"s":"M-"},{"e":704.9,"v":0.001,"s":"M-"},{"e":705.8,"v":0.003,"s":"M-"},{"e":706.4,"v":0.013,"s":"M-"},{"e":707.0,"v":0.027,"s":"M-"},{"e":707.3,"v":0.047,"s":"M-"},{"e":707.6,"v":0.100,"s":"M-"},{"e":708.0,"v":0.213,"s":"M-"},{"e":708.3,"v":0.353,"s":"M-"},{"e":708.6,"v":0.432,"s":"M-"},{"e":708.9,"v":0.447,"s":"M-"},{"e":709.2,"v":0.419,"s":"M-"},{"e":709.5,"v":0.379,"s":"M-"},{"e":709.8,"v":0.339,"s":"M-"},{"e":710.2,"v":0.299,"s":"M-"},{"e":710.7,"v":0.266,"s":"M-"},{"e":711.3,"v":0.233,"s":"M-"},{"e":711.9,"v":0.200,"s":"M-"},{"e":712.5,"v":0.173,"s":"M-"},{"e":713.1,"v":0.146,"s":"M-"},{"e":714.1,"v":0.130,"s":"M-"},{"e":715.0,"v":0.120,"s":"M-"},{"e":716.2,"v":0.110,"s":"M-"},{"e":717.4,"v":0.100,"s":"M-"},{"e":718.3,"v":0.093,"s":"M-"},{"e":719.3,"v":0.100,"s":"M-"},{"e":719.9,"v":0.110,"s":"M-"},{"e":720.3,"v":0.126,"s":"M-"},{"e":720.6,"v":0.180,"s":"M-"},{"e":721.1,"v":0.253,"s":"M-"},{"e":721.5,"v":0.273,"s":"M-"},{"e":722.0,"v":0.286,"s":"M-"},{"e":722.5,"v":0.276,"s":"M-"},{"e":722.9,"v":0.253,"s":"M-"},{"e":723.7,"v":0.220,"s":"M-"},{"e":724.4,"v":0.200,"s":"M-"},{"e":725.4,"v":0.173,"s":"M-"},{"e":726.3,"v":0.160,"s":"M-"},{"e":727.2,"v":0.153,"s":"M-"},{"e":728.1,"v":0.143,"s":"M-"},{"e":729.0,"v":0.138,"s":"M-"},{"e":730.2,"v":0.136,"s":"M-"},{"e":731.2,"v":0.136,"s":"M-"},{"e":732.1,"v":0.130,"s":"M-"},{"e":733.3,"v":0.125,"s":"M-"},{"e":734.5,"v":0.121,"s":"M-"},{"e":735.7,"v":0.114,"s":"M-"},{"e":737.0,"v":0.113,"s":"M-"},{"e":738.0,"v":0.108,"s":"M-"}
],
"h": [
{"e":772.0,"v":0.0,"s":"M+"},{"e":774.9,"v":0.001,"s":"M+"},{"e":777.0,"v":0.007,"s":"M+"},{"e":778.0,"v":0.017,"s":"M+"},{"e":778.5,"v":0.033,"s":"M+"},{"e":778.9,"v":0.073,"s":"M+"},{"e":779.2,"v":0.180,"s":"M+"},{"e":779.6,"v":0.339,"s":"M+"},{"e":779.8,"v":0.432,"s":"M+"},{"e":780.1,"v":0.464,"s":"M+"},{"e":780.4,"v":0.432,"s":"M+"},{"e":780.6,"v":0.366,"s":"M+"},{"e":781.0,"v":0.306,"s":"M+"},{"e":781.4,"v":0.259,"s":"M+"},{"e":781.8,"v":0.206,"s":"M+"},{"e":782.4,"v":0.170,"s":"M+"},{"e":783.2,"v":0.133,"s":"M+"},{"e":784.3,"v":0.103,"s":"M+"},{"e":785.3,"v":0.086,"s":"M+"},{"e":787.1,"v":0.077,"s":"M+"},{"e":789.2,"v":0.070,"s":"M+"},{"e":791.3,"v":0.070,"s":"M+"},{"e":792.7,"v":0.073,"s":"M+"},{"e":793.5,"v":0.083,"s":"M+"},{"e":794.1,"v":0.110,"s":"M+"},{"e":794.6,"v":0.143,"s":"M+"},{"e":795.1,"v":0.166,"s":"M+"},{"e":795.6,"v":0.172,"s":"M+"},{"e":796.3,"v":0.160,"s":"M+"},{"e":797.2,"v":0.140,"s":"M+"},{"e":798.2,"v":0.123,"s":"M+"},{"e":799.3,"v":0.113,"s":"M+"},{"e":801.0,"v":0.108,"s":"M+"},{"e":803.1,"v":0.111,"s":"M+"},{"e":804.5,"v":0.116,"s":"M+"},{"e":806.6,"v":0.123,"s":"M+"},{"e":808.7,"v":0.130,"s":"M+"},{"e":810.4,"v":0.133,"s":"M+"},{"e":812.0,"v":0.136,"s":"M+"},
{"e":772.0,"v":-0.001,"s":"M-"},{"e":774.9,"v":0.0,"s":"M-"},{"e":777.0,"v":0.003,"s":"M-"},{"e":778.0,"v":0.010,"s":"M-"},{"e":778.6,"v":0.023,"s":"M-"},{"e":779.1,"v":0.060,"s":"M-"},{"e":779.4,"v":0.173,"s":"M-"},{"e":779.8,"v":0.293,"s":"M-"},{"e":780.0,"v":0.326,"s":"M-"},{"e":780.3,"v":0.299,"s":"M-"},{"e":780.6,"v":0.259,"s":"M-"},{"e":781.1,"v":0.220,"s":"M-"},{"e":781.7,"v":0.180,"s":"M-"},{"e":782.4,"v":0.156,"s":"M-"},{"e":783.2,"v":0.130,"s":"M-"},{"e":784.3,"v":0.103,"s":"M-"},{"e":785.3,"v":0.086,"s":"M-"},{"e":787.1,"v":0.075,"s":"M-"},{"e":789.2,"v":0.069,"s":"M-"},{"e":791.3,"v":0.070,"s":"M-"},{"e":792.7,"v":0.073,"s":"M-"},{"e":793.5,"v":0.086,"s":"M-"},{"e":794.1,"v":0.120,"s":"M-"},{"e":794.6,"v":0.180,"s":"M-"},{"e":795.1,"v":0.206,"s":"M-"},{"e":795.6,"v":0.200,"s":"M-"},{"e":796.3,"v":0.176,"s":"M-"},{"e":797.2,"v":0.153,"s":"M-"},{"e":798.2,"v":0.130,"s":"M-"},{"e":799.3,"v":0.120,"s":"M-"},{"e":801.0,"v":0.114,"s":"M-"},{"e":803.1,"v":0.114,"s":"M-"},{"e":804.5,"v":0.118,"s":"M-"},{"e":806.6,"v":0.124,"s":"M-"},{"e":808.7,"v":0.131,"s":"M-"},{"e":810.4,"v":0.135,"s":"M-"},{"e":812.0,"v":0.138,"s":"M-"}
],
"i": [
{"e":849.49,"v":0.001,"s":"M+"},{"e":850.47,"v":0.003,"s":"M+"},{"e":851.46,"v":0.008,"s":"M+"},{"e":852.25,"v":0.015,"s":"M+"},{"e":852.65,"v":0.022,"s":"M+"},{"e":853.04,"v":0.037,"s":"M+"},{"e":853.34,"v":0.060,"s":"M+"},{"e":853.53,"v":0.090,"s":"M+"},{"e":853.73,"v":0.153,"s":"M+"},{"e":853.88,"v":0.226,"s":"M+"},{"e":854.03,"v":0.326,"s":"M+"},{"e":854.18,"v":0.419,"s":"M+"},{"e":854.32,"v":0.512,"s":"M+"},{"e":854.47,"v":0.572,"s":"M+"},{"e":854.62,"v":0.587,"s":"M+"},{"e":854.77,"v":0.582,"s":"M+"},{"e":854.92,"v":0.559,"s":"M+"},{"e":855.11,"v":0.512,"s":"M+"},{"e":855.31,"v":0.466,"s":"M+"},{"e":855.56,"v":0.413,"s":"M+"},{"e":855.8,"v":0.353,"s":"M+"},{"e":856.1,"v":0.306,"s":"M+"},{"e":856.4,"v":0.273,"s":"M+"},{"e":856.74,"v":0.243,"s":"M+"},{"e":857.19,"v":0.216,"s":"M+"},{"e":857.68,"v":0.196,"s":"M+"},{"e":858.17,"v":0.181,"s":"M+"},{"e":858.67,"v":0.170,"s":"M+"},{"e":859.16,"v":0.163,"s":"M+"},{"e":859.56,"v":0.160,"s":"M+"},{"e":859.95,"v":0.163,"s":"M+"},{"e":860.35,"v":0.170,"s":"M+"},{"e":860.74,"v":0.174,"s":"M+"},{"e":861.0,"v":0.174,"s":"M+"},
{"e":849.49,"v":-0.001,"s":"M-"},{"e":850.47,"v":0.001,"s":"M-"},{"e":851.46,"v":0.005,"s":"M-"},{"e":852.25,"v":0.010,"s":"M-"},{"e":852.65,"v":0.017,"s":"M-"},{"e":853.04,"v":0.030,"s":"M-"},{"e":853.34,"v":0.050,"s":"M-"},{"e":853.58,"v":0.077,"s":"M-"},{"e":853.78,"v":0.126,"s":"M-"},{"e":853.98,"v":0.213,"s":"M-"},{"e":854.13,"v":0.313,"s":"M-"},{"e":854.27,"v":0.413,"s":"M-"},{"e":854.42,"v":0.492,"s":"M-"},{"e":854.57,"v":0.526,"s":"M-"},{"e":854.72,"v":0.531,"s":"M-"},{"e":854.87,"v":0.509,"s":"M-"},{"e":855.06,"v":0.472,"s":"M-"},{"e":855.31,"v":0.426,"s":"M-"},{"e":855.61,"v":0.366,"s":"M-"},{"e":855.9,"v":0.313,"s":"M-"},{"e":856.2,"v":0.279,"s":"M-"},{"e":856.59,"v":0.246,"s":"M-"},{"e":857.09,"v":0.213,"s":"M-"},{"e":857.58,"v":0.190,"s":"M-"},{"e":858.08,"v":0.173,"s":"M-"},{"e":858.57,"v":0.161,"s":"M-"},{"e":859.06,"v":0.153,"s":"M-"},{"e":859.46,"v":0.150,"s":"M-"},{"e":859.85,"v":0.153,"s":"M-"},{"e":860.35,"v":0.163,"s":"M-"},{"e":860.74,"v":0.172,"s":"M-"},{"e":861.0,"v":0.173,"s":"M-"}
],
"t_a": [{"e":704.2,"v":0.704,"t":"(a)","k":"m"},{"e":710.2,"v":0.6815,"t":"Fe L","k":"m"},{"e":716.63,"v":0.6625,"t":"3","k":"s"},{"e":724.28,"v":0.69,"t":"FLASH2","k":"m"},{"e":717.63,"v":0.332,"t":"Fe L","k":"m"},{"e":724.05,"v":0.311,"t":"2","k":"s"}],
"t_b": [{"e":773.3,"v":0.704,"t":"(b)","k":"m"},{"e":781.5,"v":0.6625,"t":"Co L","k":"m"},{"e":789.3,"v":0.643,"t":"3","k":"s"},{"e":796.43,"v":0.69,"t":"FLASH2","k":"m"},{"e":788.48,"v":0.335,"t":"Co L","k":"m"},{"e":796.3,"v":0.3155,"t":"2","k":"s"}],
"t_c": [{"e":849.88,"v":0.704,"t":"(c)","k":"m"},{"e":853.42,"v":0.6625,"t":"Ni L","k":"m"},{"e":855.33,"v":0.643,"t":"3","k":"s"},{"e":856.5,"v":0.69,"t":"FLASH2","k":"m"}],
"t_d": [{"e":704.14,"v":0.0936,"t":"(d)","k":"m"}],
"t_e": [{"e":773.3,"v":0.0513,"t":"(e)","k":"m"}],
"t_f": [{"e":849.88,"v":0.0297,"t":"(f)","k":"m"}],
"t_g": [{"e":704.14,"v":0.705,"t":"(g)","k":"m"},{"e":714.43,"v":0.6906,"t":"PM3 - BESSYII","k":"m"}],
"t_h": [{"e":773.3,"v":0.705,"t":"(h)","k":"m"},{"e":785.06,"v":0.6906,"t":"PM3 - BESSYII","k":"m"}],
"t_i": [{"e":849.88,"v":0.705,"t":"(i)","k":"m"},{"e":853.26,"v":0.6906,"t":"PM3 - BESSYII","k":"m"}]
},
"concat": [
{"width":900,"height":900,"layer":[
 {"data":{"name":"a"},"mark":{"type":"line","strokeWidth":4.5,"clip":true},"encoding":{
  "x":{"field":"e","type":"quantitative","scale":{"domain":[702.95,738],"nice":false,"zero":false},"axis":{"values":[705,710,715,720,725,730,735],"format":"d","labelExpr":"datum.value % 10 === 0 ? datum.label : ''","tickSize":{"condition":{"test":"datum.value % 10 === 0","value":-27},"value":-14},"title":null}},
  "y":{"field":"v","type":"quantitative","scale":{"domain":[-0.01,0.79],"nice":false,"zero":false},"axis":{"values":[0,0.1,0.2,0.3,0.4,0.5,0.6,0.7],"format":".1f","labelExpr":"round(datum.value*10) % 2 === 0 ? datum.label : ''","tickSize":{"condition":{"test":"round(datum.value*10) % 2 === 0","value":-27},"value":-14},"title":"X-ray abs. (arb. u.)","titleX":-176,"titleY":450,"titleAngle":270,"titleAlign":"center","titleBaseline":"alphabetic"}},
  "detail":{"field":"s","type":"nominal"},
  "stroke":{"condition":{"test":"datum.s === 'M+'","value":"black"},"value":"red"}}},
 {"data":{"name":"a"},"mark":{"type":"point","filled":true,"size":620,"opacity":1,"clip":true},"encoding":{
  "x":{"field":"e","type":"quantitative"},"y":{"field":"v","type":"quantitative"},
  "fill":{"field":"s","type":"nominal","scale":{"domain":["M+","M-"],"range":["black","red"]},"legend":{"orient":"none","legendX":596,"legendY":410,"title":null,"symbolType":"M-1,0L1,0M0.166,0A0.166,0.166,0,1,1,-0.166,0A0.166,0.166,0,1,1,0.166,0Z","symbolSize":28561,"symbolStrokeWidth":6,"clipHeight":80,"rowPadding":12,"labelOffset":24,"padding":0}},
  "stroke":{"field":"s","type":"nominal","scale":{"domain":["M+","M-"],"range":["black","red"]},"legend":{"orient":"none","legendX":596,"legendY":410,"title":null,"symbolType":"M-1,0L1,0M0.166,0A0.166,0.166,0,1,1,-0.166,0A0.166,0.166,0,1,1,0.166,0Z","symbolSize":28561,"symbolStrokeWidth":6,"clipHeight":80,"rowPadding":12,"labelOffset":24,"padding":0}}}},
 {"data":{"name":"t_a"},"mark":{"type":"text","align":"left","baseline":"alphabetic","color":"black"},"encoding":{"x":{"field":"e","type":"quantitative"},"y":{"field":"v","type":"quantitative"},"text":{"field":"t","type":"nominal"},"size":{"condition":{"test":"datum.k === 's'","value":54},"value":84}}}
]},
{"width":324,"height":900,"data":{"values":[]},"mark":"point","view":{"stroke":null}},
{"width":900,"height":900,"layer":[
 {"data":{"name":"b"},"mark":{"type":"line","strokeWidth":4.5,"clip":true},"encoding":{
  "x":{"field":"e","type":"quantitative","scale":{"domain":[772,812],"nice":false,"zero":false},"axis":{"values":[772.5,780,787.5,795,802.5,810],"format":"d","labelExpr":"datum.value % 15 === 0 ? datum.label : ''","tickSize":{"condition":{"test":"datum.value % 15 === 0","value":-27},"value":-14},"title":null}},
  "y":{"field":"v","type":"quantitative","scale":{"domain":[-0.01,0.79],"nice":false,"zero":false},"axis":{"values":[0,0.1,0.2,0.3,0.4,0.5,0.6,0.7],"format":".1f","labelExpr":"round(datum.value*10) % 2 === 0 ? datum.label : ''","tickSize":{"condition":{"test":"round(datum.value*10) % 2 === 0","value":-27},"value":-14},"title":null}},
  "detail":{"field":"s","type":"nominal"},
  "stroke":{"condition":{"test":"datum.s === 'M+'","value":"black"},"value":"red"}}},
 {"data":{"name":"b"},"mark":{"type":"point","filled":true,"size":620,"opacity":1,"clip":true},"encoding":{
  "x":{"field":"e","type":"quantitative"},"y":{"field":"v","type":"quantitative"},
  "fill":{"field":"s","type":"nominal","scale":{"domain":["M+","M-"],"range":["black","red"]},"legend":{"orient":"none","legendX":596,"legendY":410,"title":null,"symbolType":"M-1,0L1,0M0.166,0A0.166,0.166,0,1,1,-0.166,0A0.166,0.166,0,1,1,0.166,0Z","symbolSize":28561,"symbolStrokeWidth":6,"clipHeight":80,"rowPadding":12,"labelOffset":24,"padding":0}},
  "stroke":{"field":"s","type":"nominal","scale":{"domain":["M+","M-"],"range":["black","red"]},"legend":{"orient":"none","legendX":596,"legendY":410,"title":null,"symbolType":"M-1,0L1,0M0.166,0A0.166,0.166,0,1,1,-0.166,0A0.166,0.166,0,1,1,0.166,0Z","symbolSize":28561,"symbolStrokeWidth":6,"clipHeight":80,"rowPadding":12,"labelOffset":24,"padding":0}}}},
 {"data":{"name":"t_b"},"mark":{"type":"text","align":"left","baseline":"alphabetic","color":"black"},"encoding":{"x":{"field":"e","type":"quantitative"},"y":{"field":"v","type":"quantitative"},"text":{"field":"t","type":"nominal"},"size":{"condition":{"test":"datum.k === 's'","value":54},"value":84}}}
]},
{"width":347,"height":900,"data":{"values":[]},"mark":"point","view":{"stroke":null}},
{"width":900,"height":900,"layer":[
 {"data":{"name":"c"},"mark":{"type":"line","strokeWidth":4.5,"clip":true},"encoding":{
  "x":{"field":"e","type":"quantitative","scale":{"domain":[849.47,861],"nice":false,"zero":false},"axis":{"values":[850,852.5,855,857.5,860],"format":"d","labelExpr":"datum.value % 5 === 0 ? datum.label : ''","tickSize":{"condition":{"test":"datum.value % 5 === 0","value":-27},"value":-14},"title":null}},
  "y":{"field":"v","type":"quantitative","scale":{"domain":[-0.01,0.79],"nice":false,"zero":false},"axis":{"values":[0,0.1,0.2,0.3,0.4,0.5,0.6,0.7],"format":".1f","labelExpr":"round(datum.value*10) % 2 === 0 ? datum.label : ''","tickSize":{"condition":{"test":"round(datum.value*10) % 2 === 0","value":-27},"value":-14},"title":null}},
  "detail":{"field":"s","type":"nominal"},
  "stroke":{"condition":{"test":"datum.s === 'M+'","value":"black"},"value":"red"}}},
 {"data":{"name":"c"},"mark":{"type":"point","filled":true,"size":650,"opacity":1,"clip":true},"encoding":{
  "x":{"field":"e","type":"quantitative"},"y":{"field":"v","type":"quantitative"},
  "fill":{"field":"s","type":"nominal","scale":{"domain":["M+","M-"],"range":["black","red"]},"legend":{"orient":"none","legendX":597,"legendY":410,"title":null,"symbolType":"M-1,0L1,0M0.166,0A0.166,0.166,0,1,1,-0.166,0A0.166,0.166,0,1,1,0.166,0Z","symbolSize":28561,"symbolStrokeWidth":6,"clipHeight":80,"rowPadding":12,"labelOffset":22,"padding":0}},
  "stroke":{"field":"s","type":"nominal","scale":{"domain":["M+","M-"],"range":["black","red"]},"legend":{"orient":"none","legendX":597,"legendY":410,"title":null,"symbolType":"M-1,0L1,0M0.166,0A0.166,0.166,0,1,1,-0.166,0A0.166,0.166,0,1,1,0.166,0Z","symbolSize":28561,"symbolStrokeWidth":6,"clipHeight":80,"rowPadding":12,"labelOffset":22,"padding":0}}}},
 {"data":{"name":"t_c"},"mark":{"type":"text","align":"left","baseline":"alphabetic","color":"black"},"encoding":{"x":{"field":"e","type":"quantitative"},"y":{"field":"v","type":"quantitative"},"text":{"field":"t","type":"nominal"},"size":{"condition":{"test":"datum.k === 's'","value":54},"value":84}}}
]},
{"width":900,"height":900,"layer":[
 {"data":{"values":[{}]},"mark":{"type":"rule","color":"black","strokeWidth":2.5},"encoding":{"y":{"datum":0}}},
 {"data":{"name":"d"},"mark":{"type":"line","clip":true},"encoding":{
  "x":{"field":"e","type":"quantitative","scale":{"domain":[702.95,738],"nice":false,"zero":false},"axis":{"values":[705,710,715,720,725,730,735],"format":"d","labelExpr":"datum.value % 10 === 0 ? datum.label : ''","tickSize":{"condition":{"test":"datum.value % 10 === 0","value":-27},"value":-14},"title":null}},
  "y":{"field":"v","type":"quantitative","scale":{"domain":[-0.5,0.1615],"nice":false,"zero":false},"axis":{"values":[0.0833333,0,-0.0833333,-0.1666667,-0.25,-0.3333333,-0.4166667,-0.5],"format":".1f","labelExpr":"abs(round(datum.value*12)) % 2 === 0 ? datum.label : ''","tickSize":{"condition":{"test":"abs(round(datum.value*12)) % 2 === 0","value":-27},"value":-14},"title":"XMCD","titleX":-220,"titleY":450,"titleAngle":270,"titleAlign":"center","titleBaseline":"alphabetic"}},
  "stroke":{"field":"s","type":"nominal","scale":{"domain":["PM3","FLASH2"],"range":["black","blue"]},"legend":{"orient":"none","legendX":418,"legendY":703,"title":null,"symbolType":"M-1,0L1,0","symbolSize":28561,"clipHeight":80,"rowPadding":12,"labelOffset":21,"padding":0}},
  "strokeDash":{"field":"s","type":"nominal","scale":{"domain":["PM3","FLASH2"],"range":[[1,0],[10,6]]},"legend":{"orient":"none","legendX":418,"legendY":703,"title":null,"symbolType":"M-1,0L1,0","symbolSize":28561,"clipHeight":80,"rowPadding":12,"labelOffset":21,"padding":0}},
  "strokeWidth":{"field":"s","type":"nominal","scale":{"type":"point","domain":["PM3","FLASH2"],"range":[6,2.5],"padding":0},"legend":{"orient":"none","legendX":418,"legendY":703,"title":null,"symbolType":"M-1,0L1,0","symbolSize":28561,"clipHeight":80,"rowPadding":12,"labelOffset":21,"padding":0}}}},
 {"data":{"name":"d"},"transform":[{"filter":"datum.s === 'FLASH2'"}],"mark":{"type":"point","filled":true,"stroke":"blue","strokeWidth":4,"shape":"M0.12,0A0.12,0.12,0,1,1,-0.12,0A0.12,0.12,0,1,1,0.12,0Z","size":52900,"opacity":1,"clip":true},"encoding":{
  "x":{"field":"e","type":"quantitative"},"y":{"field":"v","type":"quantitative"},
  "fill":{"field":"s","type":"nominal","scale":{"range":["white"]},"legend":{"orient":"none","legendX":418,"legendY":795,"title":null,"symbolType":"M0.12,0A0.12,0.12,0,1,1,-0.12,0A0.12,0.12,0,1,1,0.12,0Z","symbolSize":28561,"symbolStrokeWidth":4,"symbolStrokeColor":"blue","clipHeight":80,"rowPadding":12,"labelExpr":"''","labelOffset":21,"padding":0}}}},
 {"data":{"name":"arr_d"},"mark":{"type":"rule","color":"#8A2BE2","strokeWidth":5},"encoding":{"x":{"field":"e","type":"quantitative"},"y":{"field":"lo","type":"quantitative"},"y2":{"field":"hi"}}},
 {"data":{"name":"arr_d"},"mark":{"type":"point","filled":true,"opacity":1,"color":"#8A2BE2","shape":"M0,0L0.6,1.3L0,1.0L-0.6,1.3Z","size":2600},"encoding":{"x":{"field":"e","type":"quantitative"},"y":{"field":"hi","type":"quantitative"}}},
 {"data":{"name":"arr_d"},"mark":{"type":"point","filled":true,"opacity":1,"color":"#8A2BE2","shape":"M0,0L0.6,-1.3L0,-1.0L-0.6,-1.3Z","size":2600},"encoding":{"x":{"field":"e","type":"quantitative"},"y":{"field":"lo","type":"quantitative"}}},
 {"data":{"name":"t_d"},"mark":{"type":"text","align":"left","baseline":"alphabetic","color":"black","fontSize":84},"encoding":{"x":{"field":"e","type":"quantitative"},"y":{"field":"v","type":"quantitative"},"text":{"field":"t","type":"nominal"}}}
]},
{"width":324,"height":900,"data":{"values":[]},"mark":"point","view":{"stroke":null}},
{"width":900,"height":900,"layer":[
 {"data":{"values":[{}]},"mark":{"type":"rule","color":"black","strokeWidth":2.5},"encoding":{"y":{"datum":0}}},
 {"data":{"name":"e"},"mark":{"type":"line","clip":true},"encoding":{
  "x":{"field":"e","type":"quantitative","scale":{"domain":[772,812],"nice":false,"zero":false},"axis":{"values":[772.5,780,787.5,795,802.5,810],"format":"d","labelExpr":"datum.value % 15 === 0 ? datum.label : ''","tickSize":{"condition":{"test":"datum.value % 15 === 0","value":-27},"value":-14},"title":null}},
  "y":{"field":"v","type":"quantitative","scale":{"domain":[-0.306,0.0922],"nice":false,"zero":false},"axis":{"values":[0.05,0,-0.05,-0.1,-0.15,-0.2,-0.25,-0.3],"format":".1f","labelExpr":"abs(round(datum.value*20)) % 2 === 0 ? datum.label : ''","tickSize":{"condition":{"test":"abs(round(datum.value*20)) % 2 === 0","value":-27},"value":-14},"title":null}},
  "stroke":{"field":"s","type":"nominal","scale":{"domain":["PM3","FLASH2"],"range":["black","blue"]},"legend":{"orient":"none","legendX":418,"legendY":703,"title":null,"symbolType":"M-1,0L1,0","symbolSize":28561,"clipHeight":80,"rowPadding":12,"labelOffset":21,"padding":0}},
  "strokeDash":{"field":"s","type":"nominal","scale":{"domain":["PM3","FLASH2"],"range":[[1,0],[22,14]]},"legend":{"orient":"none","legendX":418,"legendY":703,"title":null,"symbolType":"M-1,0L1,0","symbolSize":28561,"clipHeight":80,"rowPadding":12,"labelOffset":21,"padding":0}},
  "strokeWidth":{"field":"s","type":"nominal","scale":{"type":"point","domain":["PM3","FLASH2"],"range":[6,2.5],"padding":0},"legend":{"orient":"none","legendX":418,"legendY":703,"title":null,"symbolType":"M-1,0L1,0","symbolSize":28561,"clipHeight":80,"rowPadding":12,"labelOffset":21,"padding":0}}}},
 {"data":{"name":"e"},"transform":[{"filter":"datum.s === 'FLASH2'"}],"mark":{"type":"errorbar","color":"blue","clip":true,"rule":{"strokeWidth":3},"ticks":{"size":18,"thickness":3}},"encoding":{"x":{"field":"e","type":"quantitative"},"y":{"field":"v","type":"quantitative"},"yError":{"field":"err"}}},
 {"data":{"name":"e"},"transform":[{"filter":"datum.s === 'FLASH2'"}],"mark":{"type":"point","filled":true,"stroke":"blue","strokeWidth":4,"shape":"M0.12,0A0.12,0.12,0,1,1,-0.12,0A0.12,0.12,0,1,1,0.12,0Z","size":30625,"opacity":1,"clip":true},"encoding":{
  "x":{"field":"e","type":"quantitative"},"y":{"field":"v","type":"quantitative"},
  "fill":{"field":"s","type":"nominal","scale":{"range":["white"]},"legend":{"orient":"none","legendX":418,"legendY":795,"title":null,"symbolType":"M0.12,0A0.12,0.12,0,1,1,-0.12,0A0.12,0.12,0,1,1,0.12,0Z","symbolSize":28561,"symbolStrokeWidth":4,"symbolStrokeColor":"blue","clipHeight":80,"rowPadding":12,"labelExpr":"''","labelOffset":21,"padding":0}}}},
 {"data":{"name":"arr_e"},"mark":{"type":"rule","color":"#8A2BE2","strokeWidth":5},"encoding":{"x":{"field":"e","type":"quantitative"},"y":{"field":"lo","type":"quantitative"},"y2":{"field":"hi"}}},
 {"data":{"name":"arr_e"},"mark":{"type":"point","filled":true,"opacity":1,"color":"#8A2BE2","shape":"M0,0L0.6,1.3L0,1.0L-0.6,1.3Z","size":2600},"encoding":{"x":{"field":"e","type":"quantitative"},"y":{"field":"hi","type":"quantitative"}}},
 {"data":{"name":"arr_e"},"mark":{"type":"point","filled":true,"opacity":1,"color":"#8A2BE2","shape":"M0,0L0.6,-1.3L0,-1.0L-0.6,-1.3Z","size":2600},"encoding":{"x":{"field":"e","type":"quantitative"},"y":{"field":"lo","type":"quantitative"}}},
 {"data":{"name":"t_e"},"mark":{"type":"text","align":"left","baseline":"alphabetic","color":"black","fontSize":84},"encoding":{"x":{"field":"e","type":"quantitative"},"y":{"field":"v","type":"quantitative"},"text":{"field":"t","type":"nominal"}}}
]},
{"width":347,"height":900,"data":{"values":[]},"mark":"point","view":{"stroke":null}},
{"width":900,"height":900,"layer":[
 {"data":{"values":[{}]},"mark":{"type":"rule","color":"black","strokeWidth":2.5},"encoding":{"y":{"datum":0}}},
 {"data":{"name":"f"},"mark":{"type":"line","clip":true},"encoding":{
  "x":{"field":"e","type":"quantitative","scale":{"domain":[849.47,861],"nice":false,"zero":false},"axis":{"values":[850,852.5,855,857.5,860],"format":"d","labelExpr":"datum.value % 5 === 0 ? datum.label : ''","tickSize":{"condition":{"test":"datum.value % 5 === 0","value":-27},"value":-14},"title":null}},
  "y":{"field":"v","type":"quantitative","scale":{"domain":[-0.2197,0.0581],"nice":false,"zero":false},"axis":{"values":[0.035,0,-0.035,-0.07,-0.105,-0.14,-0.175,-0.21],"format":".2f","labelExpr":"abs(round(datum.value/0.035)) % 2 === 0 ? datum.label : ''","tickSize":{"condition":{"test":"abs(round(datum.value/0.035)) % 2 === 0","value":-27},"value":-14},"title":null}},
  "stroke":{"field":"s","type":"nominal","scale":{"domain":["PM3","FLASH2"],"range":["black","blue"]},"legend":{"orient":"none","legendX":418,"legendY":703,"title":null,"symbolType":"M-1,0L1,0","symbolSize":28561,"clipHeight":80,"rowPadding":12,"labelOffset":21,"padding":0}},
  "strokeDash":{"field":"s","type":"nominal","scale":{"domain":["PM3","FLASH2"],"range":[[1,0],[10,6]]},"legend":{"orient":"none","legendX":418,"legendY":703,"title":null,"symbolType":"M-1,0L1,0","symbolSize":28561,"clipHeight":80,"rowPadding":12,"labelOffset":21,"padding":0}},
  "strokeWidth":{"field":"s","type":"nominal","scale":{"type":"point","domain":["PM3","FLASH2"],"range":[6,2.5],"padding":0},"legend":{"orient":"none","legendX":418,"legendY":703,"title":null,"symbolType":"M-1,0L1,0","symbolSize":28561,"clipHeight":80,"rowPadding":12,"labelOffset":21,"padding":0}}}},
 {"data":{"name":"f"},"transform":[{"filter":"datum.s === 'FLASH2'"}],"mark":{"type":"errorbar","color":"blue","clip":true,"rule":{"strokeWidth":3},"ticks":{"size":18,"thickness":3}},"encoding":{"x":{"field":"e","type":"quantitative"},"y":{"field":"v","type":"quantitative"},"yError":{"field":"err"}}},
 {"data":{"name":"f"},"transform":[{"filter":"datum.s === 'FLASH2'"}],"mark":{"type":"point","filled":true,"stroke":"blue","strokeWidth":4,"shape":"M0.12,0A0.12,0.12,0,1,1,-0.12,0A0.12,0.12,0,1,1,0.12,0Z","size":30625,"opacity":1,"clip":true},"encoding":{
  "x":{"field":"e","type":"quantitative"},"y":{"field":"v","type":"quantitative"},
  "fill":{"field":"s","type":"nominal","scale":{"range":["white"]},"legend":{"orient":"none","legendX":418,"legendY":795,"title":null,"symbolType":"M0.12,0A0.12,0.12,0,1,1,-0.12,0A0.12,0.12,0,1,1,0.12,0Z","symbolSize":28561,"symbolStrokeWidth":4,"symbolStrokeColor":"blue","clipHeight":80,"rowPadding":12,"labelExpr":"''","labelOffset":21,"padding":0}}}},
 {"data":{"name":"arr_f"},"mark":{"type":"rule","color":"#8A2BE2","strokeWidth":5},"encoding":{"x":{"field":"e","type":"quantitative"},"y":{"field":"lo","type":"quantitative"},"y2":{"field":"hi"}}},
 {"data":{"name":"arr_f"},"mark":{"type":"point","filled":true,"opacity":1,"color":"#8A2BE2","shape":"M0,0L0.6,1.3L0,1.0L-0.6,1.3Z","size":2600},"encoding":{"x":{"field":"e","type":"quantitative"},"y":{"field":"hi","type":"quantitative"}}},
 {"data":{"name":"arr_f"},"mark":{"type":"point","filled":true,"opacity":1,"color":"#8A2BE2","shape":"M0,0L0.6,-1.3L0,-1.0L-0.6,-1.3Z","size":2600},"encoding":{"x":{"field":"e","type":"quantitative"},"y":{"field":"lo","type":"quantitative"}}},
 {"data":{"name":"t_f"},"mark":{"type":"text","align":"left","baseline":"alphabetic","color":"black","fontSize":84},"encoding":{"x":{"field":"e","type":"quantitative"},"y":{"field":"v","type":"quantitative"},"text":{"field":"t","type":"nominal"}}}
]},
{"width":900,"height":900,"layer":[
 {"data":{"name":"g"},"mark":{"type":"line","strokeWidth":6.5,"clip":true},"encoding":{
  "x":{"field":"e","type":"quantitative","scale":{"domain":[702.95,738],"nice":false,"zero":false},"axis":{"values":[705,710,715,720,725,730,735],"format":"d","labelExpr":"datum.value % 10 === 0 ? datum.label : ''","tickSize":{"condition":{"test":"datum.value % 10 === 0","value":-27},"value":-14},"title":"Energy (eV)","titleX":450,"titleY":194,"titleAngle":0,"titleAlign":"center","titleBaseline":"alphabetic"}},
  "y":{"field":"v","type":"quantitative","scale":{"domain":[-0.01,0.79],"nice":false,"zero":false},"axis":{"values":[0,0.1,0.2,0.3,0.4,0.5,0.6,0.7],"format":".1f","labelExpr":"round(datum.value*10) % 2 === 0 ? datum.label : ''","tickSize":{"condition":{"test":"round(datum.value*10) % 2 === 0","value":-27},"value":-14},"title":"X-ray abs. (arb.u.)","titleX":-177,"titleY":450,"titleAngle":270,"titleAlign":"center","titleBaseline":"alphabetic"}},
  "stroke":{"field":"s","type":"nominal","scale":{"domain":["M+","M-"],"range":["black","red"]},"legend":{"orient":"none","legendX":579,"legendY":272,"title":null,"symbolType":"M-1,0L1,0","symbolSize":28561,"symbolStrokeWidth":7,"clipHeight":80,"rowPadding":12,"labelOffset":20,"padding":0}}}},
 {"data":{"name":"t_g"},"mark":{"type":"text","align":"left","baseline":"alphabetic","color":"black","fontSize":84},"encoding":{"x":{"field":"e","type":"quantitative"},"y":{"field":"v","type":"quantitative"},"text":{"field":"t","type":"nominal"}}}
]},
{"width":324,"height":900,"data":{"values":[]},"mark":"point","view":{"stroke":null}},
{"width":900,"height":900,"layer":[
 {"data":{"name":"h"},"mark":{"type":"line","strokeWidth":6.5,"clip":true},"encoding":{
  "x":{"field":"e","type":"quantitative","scale":{"domain":[772,812],"nice":false,"zero":false},"axis":{"values":[772.5,780,787.5,795,802.5,810],"format":"d","labelExpr":"datum.value % 15 === 0 ? datum.label : ''","tickSize":{"condition":{"test":"datum.value % 15 === 0","value":-27},"value":-14},"title":"Energy (eV)","titleX":450,"titleY":194,"titleAngle":0,"titleAlign":"center","titleBaseline":"alphabetic"}},
  "y":{"field":"v","type":"quantitative","scale":{"domain":[-0.01,0.79],"nice":false,"zero":false},"axis":{"values":[0,0.1,0.2,0.3,0.4,0.5,0.6,0.7],"format":".1f","labelExpr":"round(datum.value*10) % 2 === 0 ? datum.label : ''","tickSize":{"condition":{"test":"round(datum.value*10) % 2 === 0","value":-27},"value":-14},"title":null}},
  "stroke":{"field":"s","type":"nominal","scale":{"domain":["M+","M-"],"range":["black","red"]},"legend":{"orient":"none","legendX":579,"legendY":272,"title":null,"symbolType":"M-1,0L1,0","symbolSize":28561,"symbolStrokeWidth":7,"clipHeight":80,"rowPadding":12,"labelOffset":20,"padding":0}}}},
 {"data":{"name":"t_h"},"mark":{"type":"text","align":"left","baseline":"alphabetic","color":"black","fontSize":84},"encoding":{"x":{"field":"e","type":"quantitative"},"y":{"field":"v","type":"quantitative"},"text":{"field":"t","type":"nominal"}}}
]},
{"width":347,"height":900,"data":{"values":[]},"mark":"point","view":{"stroke":null}},
{"width":900,"height":900,"layer":[
 {"data":{"name":"i"},"mark":{"type":"line","strokeWidth":6.5,"clip":true},"encoding":{
  "x":{"field":"e","type":"quantitative","scale":{"domain":[849.47,861],"nice":false,"zero":false},"axis":{"values":[850,852.5,855,857.5,860],"format":"d","labelExpr":"datum.value % 5 === 0 ? datum.label : ''","tickSize":{"condition":{"test":"datum.value % 5 === 0","value":-27},"value":-14},"title":"Energy (eV)","titleX":450,"titleY":194,"titleAngle":0,"titleAlign":"center","titleBaseline":"alphabetic"}},
  "y":{"field":"v","type":"quantitative","scale":{"domain":[-0.01,0.79],"nice":false,"zero":false},"axis":{"values":[0,0.1,0.2,0.3,0.4,0.5,0.6,0.7],"format":".1f","labelExpr":"round(datum.value*10) % 2 === 0 ? datum.label : ''","tickSize":{"condition":{"test":"round(datum.value*10) % 2 === 0","value":-27},"value":-14},"title":null}},
  "stroke":{"field":"s","type":"nominal","scale":{"domain":["M+","M-"],"range":["black","red"]},"legend":{"orient":"none","legendX":580,"legendY":272,"title":null,"symbolType":"M-1,0L1,0","symbolSize":28561,"symbolStrokeWidth":7,"clipHeight":80,"rowPadding":12,"labelOffset":20,"padding":0}}}},
 {"data":{"name":"t_i"},"mark":{"type":"text","align":"left","baseline":"alphabetic","color":"black","fontSize":84},"encoding":{"x":{"field":"e","type":"quantitative"},"y":{"field":"v","type":"quantitative"},"text":{"field":"t","type":"nominal"}}}
]}
]
}
